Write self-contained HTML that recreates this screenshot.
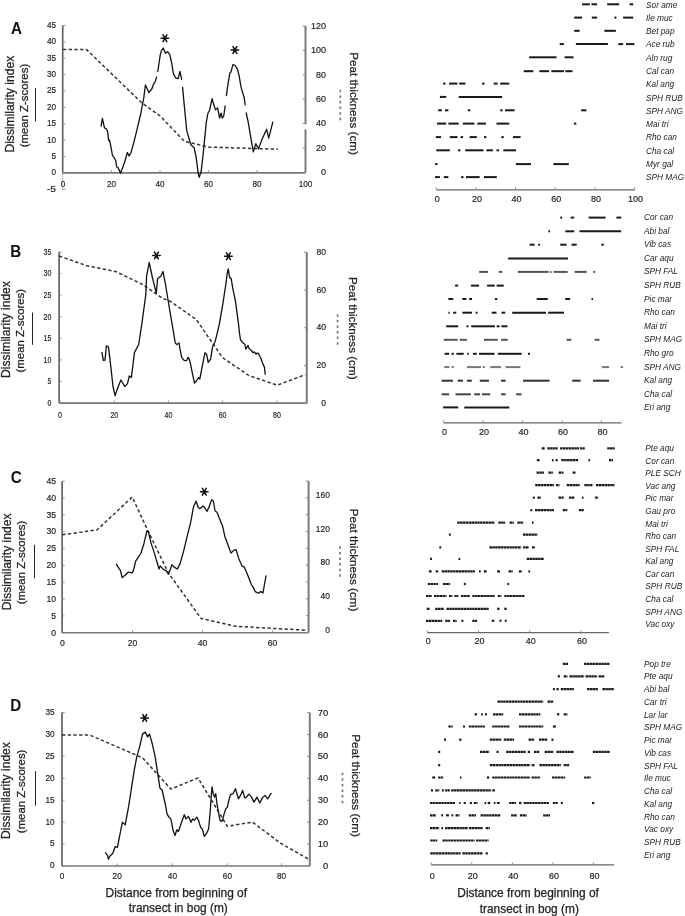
<!DOCTYPE html>
<html><head><meta charset="utf-8"><title>Figure</title>
<style>
html,body{margin:0;padding:0;background:#fff;}
svg{display:block;filter:grayscale(1);}
text{font-family:"Liberation Sans", sans-serif;}
</style></head>
<body>
<svg width="685" height="916" viewBox="0 0 685 916">
<rect x="0" y="0" width="685" height="916" fill="#fff"/>
<text x="16.6" y="28.5" font-size="16.6" text-anchor="middle" font-weight="bold" font-style="normal" fill="#111" dominant-baseline="central" textLength="11.00" lengthAdjust="spacingAndGlyphs">A</text>
<line x1="62.7" y1="25.5" x2="62.7" y2="172.9" stroke="#5a5a5a" stroke-width="1.6"/>
<line x1="62.7" y1="172.9" x2="62.7" y2="189.27777777777777" stroke="#aaa" stroke-width="0.8"/>
<line x1="62.7" y1="189.27777777777777" x2="65.3" y2="189.27777777777777" stroke="#888" stroke-width="0.9"/>
<text x="56.0" y="188.17777777777778" font-size="9.6" text-anchor="end" font-weight="normal" font-style="normal" fill="#222" dominant-baseline="central" stroke="#222" stroke-width="0.18" textLength="9.10" lengthAdjust="spacingAndGlyphs">-5</text>
<line x1="62.7" y1="172.9" x2="65.3" y2="172.9" stroke="#888" stroke-width="0.9"/>
<text x="56.0" y="171.8" font-size="9.6" text-anchor="end" font-weight="normal" font-style="normal" fill="#222" dominant-baseline="central" stroke="#222" stroke-width="0.18" textLength="4.55" lengthAdjust="spacingAndGlyphs">0</text>
<line x1="62.7" y1="156.52222222222224" x2="65.3" y2="156.52222222222224" stroke="#888" stroke-width="0.9"/>
<text x="56.0" y="155.42222222222225" font-size="9.6" text-anchor="end" font-weight="normal" font-style="normal" fill="#222" dominant-baseline="central" stroke="#222" stroke-width="0.18" textLength="4.55" lengthAdjust="spacingAndGlyphs">5</text>
<line x1="62.7" y1="140.14444444444445" x2="65.3" y2="140.14444444444445" stroke="#888" stroke-width="0.9"/>
<text x="56.0" y="139.04444444444445" font-size="9.6" text-anchor="end" font-weight="normal" font-style="normal" fill="#222" dominant-baseline="central" stroke="#222" stroke-width="0.18" textLength="9.10" lengthAdjust="spacingAndGlyphs">10</text>
<line x1="62.7" y1="123.76666666666667" x2="65.3" y2="123.76666666666667" stroke="#888" stroke-width="0.9"/>
<text x="56.0" y="122.66666666666667" font-size="9.6" text-anchor="end" font-weight="normal" font-style="normal" fill="#222" dominant-baseline="central" stroke="#222" stroke-width="0.18" textLength="9.10" lengthAdjust="spacingAndGlyphs">15</text>
<line x1="62.7" y1="107.38888888888889" x2="65.3" y2="107.38888888888889" stroke="#888" stroke-width="0.9"/>
<text x="56.0" y="106.28888888888889" font-size="9.6" text-anchor="end" font-weight="normal" font-style="normal" fill="#222" dominant-baseline="central" stroke="#222" stroke-width="0.18" textLength="9.10" lengthAdjust="spacingAndGlyphs">20</text>
<line x1="62.7" y1="91.0111111111111" x2="65.3" y2="91.0111111111111" stroke="#888" stroke-width="0.9"/>
<text x="56.0" y="89.91111111111111" font-size="9.6" text-anchor="end" font-weight="normal" font-style="normal" fill="#222" dominant-baseline="central" stroke="#222" stroke-width="0.18" textLength="9.10" lengthAdjust="spacingAndGlyphs">25</text>
<line x1="62.7" y1="74.63333333333333" x2="65.3" y2="74.63333333333333" stroke="#888" stroke-width="0.9"/>
<text x="56.0" y="73.53333333333333" font-size="9.6" text-anchor="end" font-weight="normal" font-style="normal" fill="#222" dominant-baseline="central" stroke="#222" stroke-width="0.18" textLength="9.10" lengthAdjust="spacingAndGlyphs">30</text>
<line x1="62.7" y1="58.255555555555546" x2="65.3" y2="58.255555555555546" stroke="#888" stroke-width="0.9"/>
<text x="56.0" y="57.155555555555544" font-size="9.6" text-anchor="end" font-weight="normal" font-style="normal" fill="#222" dominant-baseline="central" stroke="#222" stroke-width="0.18" textLength="9.10" lengthAdjust="spacingAndGlyphs">35</text>
<line x1="62.7" y1="41.877777777777766" x2="65.3" y2="41.877777777777766" stroke="#888" stroke-width="0.9"/>
<text x="56.0" y="40.777777777777764" font-size="9.6" text-anchor="end" font-weight="normal" font-style="normal" fill="#222" dominant-baseline="central" stroke="#222" stroke-width="0.18" textLength="9.10" lengthAdjust="spacingAndGlyphs">40</text>
<line x1="62.7" y1="25.49999999999997" x2="65.3" y2="25.49999999999997" stroke="#888" stroke-width="0.9"/>
<text x="56.0" y="24.39999999999997" font-size="9.6" text-anchor="end" font-weight="normal" font-style="normal" fill="#222" dominant-baseline="central" stroke="#222" stroke-width="0.18" textLength="9.10" lengthAdjust="spacingAndGlyphs">45</text>
<line x1="62.7" y1="172.9" x2="305.5" y2="172.9" stroke="#777" stroke-width="1.6"/>
<line x1="63.0" y1="170.3" x2="63.0" y2="172.9" stroke="#888" stroke-width="0.9"/>
<text x="63.0" y="183.5" font-size="9.6" text-anchor="middle" font-weight="normal" font-style="normal" fill="#222" dominant-baseline="central" stroke="#222" stroke-width="0.18" textLength="4.55" lengthAdjust="spacingAndGlyphs">0</text>
<line x1="111.5" y1="170.3" x2="111.5" y2="172.9" stroke="#888" stroke-width="0.9"/>
<text x="111.5" y="183.5" font-size="9.6" text-anchor="middle" font-weight="normal" font-style="normal" fill="#222" dominant-baseline="central" stroke="#222" stroke-width="0.18" textLength="9.10" lengthAdjust="spacingAndGlyphs">20</text>
<line x1="160.0" y1="170.3" x2="160.0" y2="172.9" stroke="#888" stroke-width="0.9"/>
<text x="160.0" y="183.5" font-size="9.6" text-anchor="middle" font-weight="normal" font-style="normal" fill="#222" dominant-baseline="central" stroke="#222" stroke-width="0.18" textLength="9.10" lengthAdjust="spacingAndGlyphs">40</text>
<line x1="208.5" y1="170.3" x2="208.5" y2="172.9" stroke="#888" stroke-width="0.9"/>
<text x="208.5" y="183.5" font-size="9.6" text-anchor="middle" font-weight="normal" font-style="normal" fill="#222" dominant-baseline="central" stroke="#222" stroke-width="0.18" textLength="9.10" lengthAdjust="spacingAndGlyphs">60</text>
<line x1="257.0" y1="170.3" x2="257.0" y2="172.9" stroke="#888" stroke-width="0.9"/>
<text x="257.0" y="183.5" font-size="9.6" text-anchor="middle" font-weight="normal" font-style="normal" fill="#222" dominant-baseline="central" stroke="#222" stroke-width="0.18" textLength="9.10" lengthAdjust="spacingAndGlyphs">80</text>
<line x1="305.5" y1="170.3" x2="305.5" y2="172.9" stroke="#888" stroke-width="0.9"/>
<text x="305.5" y="183.5" font-size="9.6" text-anchor="middle" font-weight="normal" font-style="normal" fill="#222" dominant-baseline="central" stroke="#222" stroke-width="0.18" textLength="13.65" lengthAdjust="spacingAndGlyphs">100</text>
<line x1="305.5" y1="26.0" x2="305.5" y2="124.2" stroke="#7a7a7a" stroke-width="2.0"/>
<line x1="305.5" y1="129.5" x2="305.5" y2="172.3" stroke="#7a7a7a" stroke-width="2.0"/>
<line x1="302.7" y1="172.3" x2="305.5" y2="172.3" stroke="#888" stroke-width="0.9"/>
<text x="326" y="171.70000000000002" font-size="9.6" text-anchor="end" font-weight="normal" font-style="normal" fill="#222" dominant-baseline="central" stroke="#222" stroke-width="0.18" textLength="5.00" lengthAdjust="spacingAndGlyphs">0</text>
<line x1="302.7" y1="147.91666666666669" x2="305.5" y2="147.91666666666669" stroke="#888" stroke-width="0.9"/>
<text x="326" y="147.3166666666667" font-size="9.6" text-anchor="end" font-weight="normal" font-style="normal" fill="#222" dominant-baseline="central" stroke="#222" stroke-width="0.18" textLength="10.00" lengthAdjust="spacingAndGlyphs">20</text>
<line x1="302.7" y1="123.53333333333333" x2="305.5" y2="123.53333333333333" stroke="#888" stroke-width="0.9"/>
<text x="326" y="122.93333333333334" font-size="9.6" text-anchor="end" font-weight="normal" font-style="normal" fill="#222" dominant-baseline="central" stroke="#222" stroke-width="0.18" textLength="10.00" lengthAdjust="spacingAndGlyphs">40</text>
<line x1="302.7" y1="99.15" x2="305.5" y2="99.15" stroke="#888" stroke-width="0.9"/>
<text x="326" y="98.55000000000001" font-size="9.6" text-anchor="end" font-weight="normal" font-style="normal" fill="#222" dominant-baseline="central" stroke="#222" stroke-width="0.18" textLength="10.00" lengthAdjust="spacingAndGlyphs">60</text>
<line x1="302.7" y1="74.76666666666667" x2="305.5" y2="74.76666666666667" stroke="#888" stroke-width="0.9"/>
<text x="326" y="74.16666666666667" font-size="9.6" text-anchor="end" font-weight="normal" font-style="normal" fill="#222" dominant-baseline="central" stroke="#222" stroke-width="0.18" textLength="10.00" lengthAdjust="spacingAndGlyphs">80</text>
<line x1="302.7" y1="50.383333333333326" x2="305.5" y2="50.383333333333326" stroke="#888" stroke-width="0.9"/>
<text x="326" y="49.783333333333324" font-size="9.6" text-anchor="end" font-weight="normal" font-style="normal" fill="#222" dominant-baseline="central" stroke="#222" stroke-width="0.18" textLength="15.00" lengthAdjust="spacingAndGlyphs">100</text>
<line x1="302.7" y1="26.0" x2="305.5" y2="26.0" stroke="#888" stroke-width="0.9"/>
<text x="326" y="25.4" font-size="9.6" text-anchor="end" font-weight="normal" font-style="normal" fill="#222" dominant-baseline="central" stroke="#222" stroke-width="0.18" textLength="15.00" lengthAdjust="spacingAndGlyphs">120</text>
<text x="9.7" y="104.2" font-size="12.1" text-anchor="middle" font-weight="normal" font-style="normal" fill="#222" dominant-baseline="central" transform="rotate(-90 9.7 104.2)" stroke="#222" stroke-width="0.25">Dissimilarity index</text>
<text x="24.4" y="105.6" font-size="11.4" text-anchor="middle" font-weight="normal" font-style="normal" fill="#222" dominant-baseline="central" transform="rotate(-90 24.4 105.6)" stroke="#222" stroke-width="0.25">(mean Z-scores)</text>
<line x1="35.5" y1="88" x2="35.5" y2="121.39999999999999" stroke="#222" stroke-width="1.0"/>
<text x="354.1" y="103.6" font-size="11.7" text-anchor="middle" font-weight="normal" font-style="normal" fill="#222" dominant-baseline="central" transform="rotate(90 354.1 103.6)" stroke="#222" stroke-width="0.25">Peat thickness (cm)</text>
<line x1="340.3" y1="89.8" x2="340.3" y2="121.2" stroke="#777" stroke-width="1.7" stroke-dasharray="2.5,3.1"/>
<text x="15.7" y="251.6" font-size="16.6" text-anchor="middle" font-weight="bold" font-style="normal" fill="#111" dominant-baseline="central" textLength="11.00" lengthAdjust="spacingAndGlyphs">B</text>
<line x1="59.1" y1="252.0" x2="59.1" y2="403.1" stroke="#5a5a5a" stroke-width="1.6"/>
<line x1="59.1" y1="403.1" x2="61.7" y2="403.1" stroke="#888" stroke-width="0.9"/>
<text x="51.4" y="403.0" font-size="9.2" text-anchor="end" font-weight="normal" font-style="normal" fill="#222" dominant-baseline="central" stroke="#222" stroke-width="0.18" textLength="3.90" lengthAdjust="spacingAndGlyphs">0</text>
<line x1="59.1" y1="381.51428571428573" x2="61.7" y2="381.51428571428573" stroke="#888" stroke-width="0.9"/>
<text x="51.4" y="381.4142857142857" font-size="9.2" text-anchor="end" font-weight="normal" font-style="normal" fill="#222" dominant-baseline="central" stroke="#222" stroke-width="0.18" textLength="3.90" lengthAdjust="spacingAndGlyphs">5</text>
<line x1="59.1" y1="359.92857142857144" x2="61.7" y2="359.92857142857144" stroke="#888" stroke-width="0.9"/>
<text x="51.4" y="359.8285714285714" font-size="9.2" text-anchor="end" font-weight="normal" font-style="normal" fill="#222" dominant-baseline="central" stroke="#222" stroke-width="0.18" textLength="7.80" lengthAdjust="spacingAndGlyphs">10</text>
<line x1="59.1" y1="338.34285714285716" x2="61.7" y2="338.34285714285716" stroke="#888" stroke-width="0.9"/>
<text x="51.4" y="338.24285714285713" font-size="9.2" text-anchor="end" font-weight="normal" font-style="normal" fill="#222" dominant-baseline="central" stroke="#222" stroke-width="0.18" textLength="7.80" lengthAdjust="spacingAndGlyphs">15</text>
<line x1="59.1" y1="316.75714285714287" x2="61.7" y2="316.75714285714287" stroke="#888" stroke-width="0.9"/>
<text x="51.4" y="316.65714285714284" font-size="9.2" text-anchor="end" font-weight="normal" font-style="normal" fill="#222" dominant-baseline="central" stroke="#222" stroke-width="0.18" textLength="7.80" lengthAdjust="spacingAndGlyphs">20</text>
<line x1="59.1" y1="295.1714285714286" x2="61.7" y2="295.1714285714286" stroke="#888" stroke-width="0.9"/>
<text x="51.4" y="295.07142857142856" font-size="9.2" text-anchor="end" font-weight="normal" font-style="normal" fill="#222" dominant-baseline="central" stroke="#222" stroke-width="0.18" textLength="7.80" lengthAdjust="spacingAndGlyphs">25</text>
<line x1="59.1" y1="273.5857142857143" x2="61.7" y2="273.5857142857143" stroke="#888" stroke-width="0.9"/>
<text x="51.4" y="273.48571428571427" font-size="9.2" text-anchor="end" font-weight="normal" font-style="normal" fill="#222" dominant-baseline="central" stroke="#222" stroke-width="0.18" textLength="7.80" lengthAdjust="spacingAndGlyphs">30</text>
<line x1="59.1" y1="252.0" x2="61.7" y2="252.0" stroke="#888" stroke-width="0.9"/>
<text x="51.4" y="251.9" font-size="9.2" text-anchor="end" font-weight="normal" font-style="normal" fill="#222" dominant-baseline="central" stroke="#222" stroke-width="0.18" textLength="7.80" lengthAdjust="spacingAndGlyphs">35</text>
<line x1="59.1" y1="403.1" x2="306.6" y2="403.1" stroke="#777" stroke-width="1.6"/>
<line x1="59.9" y1="400.5" x2="59.9" y2="403.1" stroke="#888" stroke-width="0.9"/>
<text x="59.9" y="415.4" font-size="9.2" text-anchor="middle" font-weight="normal" font-style="normal" fill="#222" dominant-baseline="central" stroke="#222" stroke-width="0.18" textLength="3.90" lengthAdjust="spacingAndGlyphs">0</text>
<line x1="114.3" y1="400.5" x2="114.3" y2="403.1" stroke="#888" stroke-width="0.9"/>
<text x="114.3" y="415.4" font-size="9.2" text-anchor="middle" font-weight="normal" font-style="normal" fill="#222" dominant-baseline="central" stroke="#222" stroke-width="0.18" textLength="7.80" lengthAdjust="spacingAndGlyphs">20</text>
<line x1="168.4" y1="400.5" x2="168.4" y2="403.1" stroke="#888" stroke-width="0.9"/>
<text x="168.4" y="415.4" font-size="9.2" text-anchor="middle" font-weight="normal" font-style="normal" fill="#222" dominant-baseline="central" stroke="#222" stroke-width="0.18" textLength="7.80" lengthAdjust="spacingAndGlyphs">40</text>
<line x1="222.6" y1="400.5" x2="222.6" y2="403.1" stroke="#888" stroke-width="0.9"/>
<text x="222.6" y="415.4" font-size="9.2" text-anchor="middle" font-weight="normal" font-style="normal" fill="#222" dominant-baseline="central" stroke="#222" stroke-width="0.18" textLength="7.80" lengthAdjust="spacingAndGlyphs">60</text>
<line x1="277.0" y1="400.5" x2="277.0" y2="403.1" stroke="#888" stroke-width="0.9"/>
<text x="277.0" y="415.4" font-size="9.2" text-anchor="middle" font-weight="normal" font-style="normal" fill="#222" dominant-baseline="central" stroke="#222" stroke-width="0.18" textLength="7.80" lengthAdjust="spacingAndGlyphs">80</text>
<line x1="306.8" y1="252.2" x2="306.8" y2="403.3" stroke="#7a7a7a" stroke-width="2.0"/>
<line x1="304.0" y1="403.3" x2="306.8" y2="403.3" stroke="#888" stroke-width="0.9"/>
<text x="326.0" y="402.90000000000003" font-size="9.2" text-anchor="end" font-weight="normal" font-style="normal" fill="#222" dominant-baseline="central" stroke="#222" stroke-width="0.18" textLength="4.80" lengthAdjust="spacingAndGlyphs">0</text>
<line x1="304.0" y1="365.525" x2="306.8" y2="365.525" stroke="#888" stroke-width="0.9"/>
<text x="326.0" y="365.125" font-size="9.2" text-anchor="end" font-weight="normal" font-style="normal" fill="#222" dominant-baseline="central" stroke="#222" stroke-width="0.18" textLength="9.60" lengthAdjust="spacingAndGlyphs">20</text>
<line x1="304.0" y1="327.75" x2="306.8" y2="327.75" stroke="#888" stroke-width="0.9"/>
<text x="326.0" y="327.35" font-size="9.2" text-anchor="end" font-weight="normal" font-style="normal" fill="#222" dominant-baseline="central" stroke="#222" stroke-width="0.18" textLength="9.60" lengthAdjust="spacingAndGlyphs">40</text>
<line x1="304.0" y1="289.975" x2="306.8" y2="289.975" stroke="#888" stroke-width="0.9"/>
<text x="326.0" y="289.57500000000005" font-size="9.2" text-anchor="end" font-weight="normal" font-style="normal" fill="#222" dominant-baseline="central" stroke="#222" stroke-width="0.18" textLength="9.60" lengthAdjust="spacingAndGlyphs">60</text>
<line x1="304.0" y1="252.2" x2="306.8" y2="252.2" stroke="#888" stroke-width="0.9"/>
<text x="326.0" y="251.79999999999998" font-size="9.2" text-anchor="end" font-weight="normal" font-style="normal" fill="#222" dominant-baseline="central" stroke="#222" stroke-width="0.18" textLength="9.60" lengthAdjust="spacingAndGlyphs">80</text>
<text x="6.3" y="329.5" font-size="12.1" text-anchor="middle" font-weight="normal" font-style="normal" fill="#222" dominant-baseline="central" transform="rotate(-90 6.3 329.5)" stroke="#222" stroke-width="0.25">Dissimilarity index</text>
<text x="20.2" y="330.7" font-size="11.4" text-anchor="middle" font-weight="normal" font-style="normal" fill="#222" dominant-baseline="central" transform="rotate(-90 20.2 330.7)" stroke="#222" stroke-width="0.25">(mean Z-scores)</text>
<line x1="32.5" y1="312.5" x2="32.5" y2="344.8" stroke="#222" stroke-width="1.0"/>
<text x="353.2" y="328.3" font-size="11.7" text-anchor="middle" font-weight="normal" font-style="normal" fill="#222" dominant-baseline="central" transform="rotate(90 353.2 328.3)" stroke="#222" stroke-width="0.25">Peat thickness (cm)</text>
<line x1="337.6" y1="314.2" x2="337.6" y2="344.8" stroke="#777" stroke-width="1.7" stroke-dasharray="2.5,3.1"/>
<text x="16.2" y="477.1" font-size="16.6" text-anchor="middle" font-weight="bold" font-style="normal" fill="#111" dominant-baseline="central" textLength="11.00" lengthAdjust="spacingAndGlyphs">C</text>
<line x1="62.1" y1="481.2" x2="62.1" y2="632.8" stroke="#5a5a5a" stroke-width="1.6"/>
<line x1="62.1" y1="632.8" x2="64.7" y2="632.8" stroke="#888" stroke-width="0.9"/>
<text x="56.0" y="632.0" font-size="9.7" text-anchor="end" font-weight="normal" font-style="normal" fill="#222" dominant-baseline="central" stroke="#222" stroke-width="0.18" textLength="4.80" lengthAdjust="spacingAndGlyphs">0</text>
<line x1="62.1" y1="615.9555555555555" x2="64.7" y2="615.9555555555555" stroke="#888" stroke-width="0.9"/>
<text x="56.0" y="615.1555555555556" font-size="9.7" text-anchor="end" font-weight="normal" font-style="normal" fill="#222" dominant-baseline="central" stroke="#222" stroke-width="0.18" textLength="4.80" lengthAdjust="spacingAndGlyphs">5</text>
<line x1="62.1" y1="599.1111111111111" x2="64.7" y2="599.1111111111111" stroke="#888" stroke-width="0.9"/>
<text x="56.0" y="598.3111111111111" font-size="9.7" text-anchor="end" font-weight="normal" font-style="normal" fill="#222" dominant-baseline="central" stroke="#222" stroke-width="0.18" textLength="9.60" lengthAdjust="spacingAndGlyphs">10</text>
<line x1="62.1" y1="582.2666666666667" x2="64.7" y2="582.2666666666667" stroke="#888" stroke-width="0.9"/>
<text x="56.0" y="581.4666666666667" font-size="9.7" text-anchor="end" font-weight="normal" font-style="normal" fill="#222" dominant-baseline="central" stroke="#222" stroke-width="0.18" textLength="9.60" lengthAdjust="spacingAndGlyphs">15</text>
<line x1="62.1" y1="565.4222222222222" x2="64.7" y2="565.4222222222222" stroke="#888" stroke-width="0.9"/>
<text x="56.0" y="564.6222222222223" font-size="9.7" text-anchor="end" font-weight="normal" font-style="normal" fill="#222" dominant-baseline="central" stroke="#222" stroke-width="0.18" textLength="9.60" lengthAdjust="spacingAndGlyphs">20</text>
<line x1="62.1" y1="548.5777777777778" x2="64.7" y2="548.5777777777778" stroke="#888" stroke-width="0.9"/>
<text x="56.0" y="547.7777777777778" font-size="9.7" text-anchor="end" font-weight="normal" font-style="normal" fill="#222" dominant-baseline="central" stroke="#222" stroke-width="0.18" textLength="9.60" lengthAdjust="spacingAndGlyphs">25</text>
<line x1="62.1" y1="531.7333333333333" x2="64.7" y2="531.7333333333333" stroke="#888" stroke-width="0.9"/>
<text x="56.0" y="530.9333333333334" font-size="9.7" text-anchor="end" font-weight="normal" font-style="normal" fill="#222" dominant-baseline="central" stroke="#222" stroke-width="0.18" textLength="9.60" lengthAdjust="spacingAndGlyphs">30</text>
<line x1="62.1" y1="514.8888888888889" x2="64.7" y2="514.8888888888889" stroke="#888" stroke-width="0.9"/>
<text x="56.0" y="514.088888888889" font-size="9.7" text-anchor="end" font-weight="normal" font-style="normal" fill="#222" dominant-baseline="central" stroke="#222" stroke-width="0.18" textLength="9.60" lengthAdjust="spacingAndGlyphs">35</text>
<line x1="62.1" y1="498.0444444444444" x2="64.7" y2="498.0444444444444" stroke="#888" stroke-width="0.9"/>
<text x="56.0" y="497.2444444444444" font-size="9.7" text-anchor="end" font-weight="normal" font-style="normal" fill="#222" dominant-baseline="central" stroke="#222" stroke-width="0.18" textLength="9.60" lengthAdjust="spacingAndGlyphs">40</text>
<line x1="62.1" y1="481.2" x2="64.7" y2="481.2" stroke="#888" stroke-width="0.9"/>
<text x="56.0" y="480.4" font-size="9.7" text-anchor="end" font-weight="normal" font-style="normal" fill="#222" dominant-baseline="central" stroke="#222" stroke-width="0.18" textLength="9.60" lengthAdjust="spacingAndGlyphs">45</text>
<line x1="62.1" y1="632.8" x2="308.5" y2="632.8" stroke="#777" stroke-width="1.6"/>
<line x1="62.3" y1="630.1999999999999" x2="62.3" y2="632.8" stroke="#888" stroke-width="0.9"/>
<text x="62.3" y="642.8" font-size="9.7" text-anchor="middle" font-weight="normal" font-style="normal" fill="#222" dominant-baseline="central" stroke="#222" stroke-width="0.18" textLength="4.80" lengthAdjust="spacingAndGlyphs">0</text>
<line x1="132.5" y1="630.1999999999999" x2="132.5" y2="632.8" stroke="#888" stroke-width="0.9"/>
<text x="132.5" y="642.8" font-size="9.7" text-anchor="middle" font-weight="normal" font-style="normal" fill="#222" dominant-baseline="central" stroke="#222" stroke-width="0.18" textLength="9.60" lengthAdjust="spacingAndGlyphs">20</text>
<line x1="202.5" y1="630.1999999999999" x2="202.5" y2="632.8" stroke="#888" stroke-width="0.9"/>
<text x="202.5" y="642.8" font-size="9.7" text-anchor="middle" font-weight="normal" font-style="normal" fill="#222" dominant-baseline="central" stroke="#222" stroke-width="0.18" textLength="9.60" lengthAdjust="spacingAndGlyphs">40</text>
<line x1="272.6" y1="630.1999999999999" x2="272.6" y2="632.8" stroke="#888" stroke-width="0.9"/>
<text x="272.6" y="642.8" font-size="9.7" text-anchor="middle" font-weight="normal" font-style="normal" fill="#222" dominant-baseline="central" stroke="#222" stroke-width="0.18" textLength="9.60" lengthAdjust="spacingAndGlyphs">60</text>
<line x1="308.6" y1="481.0" x2="308.6" y2="632.5" stroke="#7a7a7a" stroke-width="2.0"/>
<line x1="305.8" y1="632.5" x2="308.6" y2="632.5" stroke="#888" stroke-width="0.9"/>
<text x="329.9" y="629.1" font-size="9.7" text-anchor="end" font-weight="normal" font-style="normal" fill="#222" dominant-baseline="central" stroke="#222" stroke-width="0.18" textLength="4.70" lengthAdjust="spacingAndGlyphs">0</text>
<line x1="305.8" y1="615.6666666666666" x2="308.6" y2="615.6666666666666" stroke="#888" stroke-width="0.9"/>
<line x1="305.8" y1="598.8333333333334" x2="308.6" y2="598.8333333333334" stroke="#888" stroke-width="0.9"/>
<text x="329.9" y="595.4333333333334" font-size="9.7" text-anchor="end" font-weight="normal" font-style="normal" fill="#222" dominant-baseline="central" stroke="#222" stroke-width="0.18" textLength="9.40" lengthAdjust="spacingAndGlyphs">40</text>
<line x1="305.8" y1="582.0" x2="308.6" y2="582.0" stroke="#888" stroke-width="0.9"/>
<line x1="305.8" y1="565.1666666666666" x2="308.6" y2="565.1666666666666" stroke="#888" stroke-width="0.9"/>
<text x="329.9" y="561.7666666666667" font-size="9.7" text-anchor="end" font-weight="normal" font-style="normal" fill="#222" dominant-baseline="central" stroke="#222" stroke-width="0.18" textLength="9.40" lengthAdjust="spacingAndGlyphs">80</text>
<line x1="305.8" y1="548.3333333333334" x2="308.6" y2="548.3333333333334" stroke="#888" stroke-width="0.9"/>
<line x1="305.8" y1="531.5" x2="308.6" y2="531.5" stroke="#888" stroke-width="0.9"/>
<text x="329.9" y="528.1" font-size="9.7" text-anchor="end" font-weight="normal" font-style="normal" fill="#222" dominant-baseline="central" stroke="#222" stroke-width="0.18" textLength="14.10" lengthAdjust="spacingAndGlyphs">120</text>
<line x1="305.8" y1="514.6666666666666" x2="308.6" y2="514.6666666666666" stroke="#888" stroke-width="0.9"/>
<line x1="305.8" y1="497.83333333333337" x2="308.6" y2="497.83333333333337" stroke="#888" stroke-width="0.9"/>
<text x="329.9" y="494.4333333333334" font-size="9.7" text-anchor="end" font-weight="normal" font-style="normal" fill="#222" dominant-baseline="central" stroke="#222" stroke-width="0.18" textLength="14.10" lengthAdjust="spacingAndGlyphs">160</text>
<line x1="305.8" y1="481.0" x2="308.6" y2="481.0" stroke="#888" stroke-width="0.9"/>
<text x="7.0" y="561.9" font-size="12.1" text-anchor="middle" font-weight="normal" font-style="normal" fill="#222" dominant-baseline="central" transform="rotate(-90 7.0 561.9)" stroke="#222" stroke-width="0.25">Dissimilarity index</text>
<text x="20.7" y="562.5" font-size="11.4" text-anchor="middle" font-weight="normal" font-style="normal" fill="#222" dominant-baseline="central" transform="rotate(-90 20.7 562.5)" stroke="#222" stroke-width="0.25">(mean Z-scores)</text>
<line x1="34.5" y1="544.8" x2="34.5" y2="578.4" stroke="#222" stroke-width="1.0"/>
<text x="354.7" y="560.1" font-size="11.7" text-anchor="middle" font-weight="normal" font-style="normal" fill="#222" dominant-baseline="central" transform="rotate(90 354.7 560.1)" stroke="#222" stroke-width="0.25">Peat thickness (cm)</text>
<line x1="340.0" y1="546.3" x2="340.0" y2="578.0" stroke="#777" stroke-width="1.7" stroke-dasharray="2.5,3.1"/>
<text x="15.8" y="705.7" font-size="16.6" text-anchor="middle" font-weight="bold" font-style="normal" fill="#111" dominant-baseline="central" textLength="11.00" lengthAdjust="spacingAndGlyphs">D</text>
<line x1="62.0" y1="712.5" x2="62.0" y2="866.0" stroke="#5a5a5a" stroke-width="1.6"/>
<line x1="62.0" y1="866.0" x2="64.6" y2="866.0" stroke="#888" stroke-width="0.9"/>
<text x="54.6" y="864.9" font-size="9.7" text-anchor="end" font-weight="normal" font-style="normal" fill="#222" dominant-baseline="central" stroke="#222" stroke-width="0.18" textLength="4.60" lengthAdjust="spacingAndGlyphs">0</text>
<line x1="62.0" y1="844.0714285714286" x2="64.6" y2="844.0714285714286" stroke="#888" stroke-width="0.9"/>
<text x="54.6" y="842.9714285714285" font-size="9.7" text-anchor="end" font-weight="normal" font-style="normal" fill="#222" dominant-baseline="central" stroke="#222" stroke-width="0.18" textLength="4.60" lengthAdjust="spacingAndGlyphs">5</text>
<line x1="62.0" y1="822.1428571428571" x2="64.6" y2="822.1428571428571" stroke="#888" stroke-width="0.9"/>
<text x="54.6" y="821.0428571428571" font-size="9.7" text-anchor="end" font-weight="normal" font-style="normal" fill="#222" dominant-baseline="central" stroke="#222" stroke-width="0.18" textLength="9.20" lengthAdjust="spacingAndGlyphs">10</text>
<line x1="62.0" y1="800.2142857142858" x2="64.6" y2="800.2142857142858" stroke="#888" stroke-width="0.9"/>
<text x="54.6" y="799.1142857142858" font-size="9.7" text-anchor="end" font-weight="normal" font-style="normal" fill="#222" dominant-baseline="central" stroke="#222" stroke-width="0.18" textLength="9.20" lengthAdjust="spacingAndGlyphs">15</text>
<line x1="62.0" y1="778.2857142857143" x2="64.6" y2="778.2857142857143" stroke="#888" stroke-width="0.9"/>
<text x="54.6" y="777.1857142857143" font-size="9.7" text-anchor="end" font-weight="normal" font-style="normal" fill="#222" dominant-baseline="central" stroke="#222" stroke-width="0.18" textLength="9.20" lengthAdjust="spacingAndGlyphs">20</text>
<line x1="62.0" y1="756.3571428571429" x2="64.6" y2="756.3571428571429" stroke="#888" stroke-width="0.9"/>
<text x="54.6" y="755.2571428571429" font-size="9.7" text-anchor="end" font-weight="normal" font-style="normal" fill="#222" dominant-baseline="central" stroke="#222" stroke-width="0.18" textLength="9.20" lengthAdjust="spacingAndGlyphs">25</text>
<line x1="62.0" y1="734.4285714285714" x2="64.6" y2="734.4285714285714" stroke="#888" stroke-width="0.9"/>
<text x="54.6" y="733.3285714285714" font-size="9.7" text-anchor="end" font-weight="normal" font-style="normal" fill="#222" dominant-baseline="central" stroke="#222" stroke-width="0.18" textLength="9.20" lengthAdjust="spacingAndGlyphs">30</text>
<line x1="62.0" y1="712.5" x2="64.6" y2="712.5" stroke="#888" stroke-width="0.9"/>
<text x="54.6" y="711.4" font-size="9.7" text-anchor="end" font-weight="normal" font-style="normal" fill="#222" dominant-baseline="central" stroke="#222" stroke-width="0.18" textLength="9.20" lengthAdjust="spacingAndGlyphs">35</text>
<line x1="62.0" y1="866.0" x2="309.8" y2="866.0" stroke="#777" stroke-width="1.6"/>
<line x1="62.0" y1="863.4" x2="62.0" y2="866.0" stroke="#888" stroke-width="0.9"/>
<text x="62.0" y="875.7" font-size="9.7" text-anchor="middle" font-weight="normal" font-style="normal" fill="#222" dominant-baseline="central" stroke="#222" stroke-width="0.18" textLength="4.60" lengthAdjust="spacingAndGlyphs">0</text>
<line x1="117.2" y1="863.4" x2="117.2" y2="866.0" stroke="#888" stroke-width="0.9"/>
<text x="117.2" y="875.7" font-size="9.7" text-anchor="middle" font-weight="normal" font-style="normal" fill="#222" dominant-baseline="central" stroke="#222" stroke-width="0.18" textLength="9.20" lengthAdjust="spacingAndGlyphs">20</text>
<line x1="172.4" y1="863.4" x2="172.4" y2="866.0" stroke="#888" stroke-width="0.9"/>
<text x="172.4" y="875.7" font-size="9.7" text-anchor="middle" font-weight="normal" font-style="normal" fill="#222" dominant-baseline="central" stroke="#222" stroke-width="0.18" textLength="9.20" lengthAdjust="spacingAndGlyphs">40</text>
<line x1="227.4" y1="863.4" x2="227.4" y2="866.0" stroke="#888" stroke-width="0.9"/>
<text x="227.4" y="875.7" font-size="9.7" text-anchor="middle" font-weight="normal" font-style="normal" fill="#222" dominant-baseline="central" stroke="#222" stroke-width="0.18" textLength="9.20" lengthAdjust="spacingAndGlyphs">60</text>
<line x1="281.6" y1="863.4" x2="281.6" y2="866.0" stroke="#888" stroke-width="0.9"/>
<text x="281.6" y="875.7" font-size="9.7" text-anchor="middle" font-weight="normal" font-style="normal" fill="#222" dominant-baseline="central" stroke="#222" stroke-width="0.18" textLength="9.20" lengthAdjust="spacingAndGlyphs">80</text>
<line x1="309.8" y1="712.6" x2="309.8" y2="866.0" stroke="#7a7a7a" stroke-width="2.0"/>
<line x1="307.0" y1="866.0" x2="309.8" y2="866.0" stroke="#888" stroke-width="0.9"/>
<text x="328.2" y="865.5" font-size="9.7" text-anchor="end" font-weight="normal" font-style="normal" fill="#222" dominant-baseline="central" stroke="#222" stroke-width="0.18" textLength="5.20" lengthAdjust="spacingAndGlyphs">0</text>
<line x1="307.0" y1="844.0857142857143" x2="309.8" y2="844.0857142857143" stroke="#888" stroke-width="0.9"/>
<text x="328.2" y="843.5857142857143" font-size="9.7" text-anchor="end" font-weight="normal" font-style="normal" fill="#222" dominant-baseline="central" stroke="#222" stroke-width="0.18" textLength="10.40" lengthAdjust="spacingAndGlyphs">10</text>
<line x1="307.0" y1="822.1714285714286" x2="309.8" y2="822.1714285714286" stroke="#888" stroke-width="0.9"/>
<text x="328.2" y="821.6714285714286" font-size="9.7" text-anchor="end" font-weight="normal" font-style="normal" fill="#222" dominant-baseline="central" stroke="#222" stroke-width="0.18" textLength="10.40" lengthAdjust="spacingAndGlyphs">20</text>
<line x1="307.0" y1="800.2571428571429" x2="309.8" y2="800.2571428571429" stroke="#888" stroke-width="0.9"/>
<text x="328.2" y="799.7571428571429" font-size="9.7" text-anchor="end" font-weight="normal" font-style="normal" fill="#222" dominant-baseline="central" stroke="#222" stroke-width="0.18" textLength="10.40" lengthAdjust="spacingAndGlyphs">30</text>
<line x1="307.0" y1="778.3428571428572" x2="309.8" y2="778.3428571428572" stroke="#888" stroke-width="0.9"/>
<text x="328.2" y="777.8428571428572" font-size="9.7" text-anchor="end" font-weight="normal" font-style="normal" fill="#222" dominant-baseline="central" stroke="#222" stroke-width="0.18" textLength="10.40" lengthAdjust="spacingAndGlyphs">40</text>
<line x1="307.0" y1="756.4285714285714" x2="309.8" y2="756.4285714285714" stroke="#888" stroke-width="0.9"/>
<text x="328.2" y="755.9285714285714" font-size="9.7" text-anchor="end" font-weight="normal" font-style="normal" fill="#222" dominant-baseline="central" stroke="#222" stroke-width="0.18" textLength="10.40" lengthAdjust="spacingAndGlyphs">50</text>
<line x1="307.0" y1="734.5142857142857" x2="309.8" y2="734.5142857142857" stroke="#888" stroke-width="0.9"/>
<text x="328.2" y="734.0142857142857" font-size="9.7" text-anchor="end" font-weight="normal" font-style="normal" fill="#222" dominant-baseline="central" stroke="#222" stroke-width="0.18" textLength="10.40" lengthAdjust="spacingAndGlyphs">60</text>
<line x1="307.0" y1="712.6" x2="309.8" y2="712.6" stroke="#888" stroke-width="0.9"/>
<text x="328.2" y="712.1" font-size="9.7" text-anchor="end" font-weight="normal" font-style="normal" fill="#222" dominant-baseline="central" stroke="#222" stroke-width="0.18" textLength="10.40" lengthAdjust="spacingAndGlyphs">70</text>
<text x="6.2" y="790.5" font-size="12.1" text-anchor="middle" font-weight="normal" font-style="normal" fill="#222" dominant-baseline="central" transform="rotate(-90 6.2 790.5)" stroke="#222" stroke-width="0.25">Dissimilarity index</text>
<text x="21.0" y="791.4" font-size="11.4" text-anchor="middle" font-weight="normal" font-style="normal" fill="#222" dominant-baseline="central" transform="rotate(-90 21.0 791.4)" stroke="#222" stroke-width="0.25">(mean Z-scores)</text>
<line x1="35.5" y1="771.2" x2="35.5" y2="805.5999999999999" stroke="#222" stroke-width="1.0"/>
<text x="356.3" y="785.5" font-size="11.7" text-anchor="middle" font-weight="normal" font-style="normal" fill="#222" dominant-baseline="central" transform="rotate(90 356.3 785.5)" stroke="#222" stroke-width="0.25">Peat thickness (cm)</text>
<line x1="342.5" y1="772.7" x2="342.5" y2="804.1" stroke="#777" stroke-width="1.7" stroke-dasharray="2.5,3.1"/>
<polyline points="63.0,49.6 86.6,49.6 141.7,102.8 160.1,116.0 184.7,141.6 190.0,142.6 208.4,147.1 277.9,149.2" fill="none" stroke="#333" stroke-width="1.5" stroke-dasharray="3.3,2.4" stroke-linejoin="round"/>
<polyline points="101.1,126.1 102.4,118.4 104.5,128.0 106.3,128.7 107.6,131.4 108.7,140.6 109.5,140.2 110.6,145.2 112.5,155.5 114.4,158.2 115.7,160.5 116.7,167.0 117.9,167.4 120.6,173.1 122.5,168.1 124.4,162.8 127.4,152.4 129.0,155.9 130.9,152.8 133.9,142.1 136.2,132.9 138.0,125.3 140.7,114.0 143.8,97.7 145.4,85.0 148.9,92.6 152.0,88.5 153.7,83.8 155.2,81.6 156.6,77.2" fill="none" stroke="#111" stroke-width="1.3" stroke-linejoin="round" stroke-linecap="round"/>
<polyline points="157.8,71.4 159.2,62.0 160.3,54.6 161.5,50.5 163.2,48.0 165.4,53.1 167.6,51.7 169.8,54.6 171.5,62.0 173.4,73.6 175.6,78.0 178.1,78.7 180.0,71.4 181.6,79.3" fill="none" stroke="#111" stroke-width="1.3" stroke-linejoin="round" stroke-linecap="round"/>
<polyline points="182.6,87.4 184.7,109.9 186.7,130.4 190.8,144.7 194.1,147.7 196.1,156.9 198.2,173.3 199.2,177.4 201.2,171.2 203.3,152.8 206.3,122.2 208.0,113.0 209.4,110.9 212.1,98.7 213.5,103.8 215.5,109.9 217.6,107.9 219.6,118.1 221.1,113.0 222.3,118.1 223.7,116.0 225.2,105.8" fill="none" stroke="#111" stroke-width="1.3" stroke-linejoin="round" stroke-linecap="round"/>
<polyline points="226.4,95.6 227.8,85.4 229.9,72.7 231.0,72.0 232.9,64.6 235.0,65.4 237.4,69.0 239.0,75.2 241.1,87.4 244.2,97.7 245.2,104.8" fill="none" stroke="#111" stroke-width="1.3" stroke-linejoin="round" stroke-linecap="round"/>
<polyline points="246.2,113.0 248.2,122.2 251.3,140.6 253.4,151.8 255.8,143.6 258.5,148.8 261.5,140.6 266.6,129.3 268.7,138.1 270.7,130.4 272.8,122.2" fill="none" stroke="#111" stroke-width="1.3" stroke-linejoin="round" stroke-linecap="round"/>
<polyline points="59.1,256.0 86.7,265.7 115.6,271.5 141.9,284.1 162.9,298.5 170.0,301.2 196.3,319.5 222.5,357.6 248.8,375.5 277.2,385.2 305.3,374.7" fill="none" stroke="#333" stroke-width="1.5" stroke-dasharray="3.3,2.4" stroke-linejoin="round"/>
<polyline points="101.9,352.4 103.3,360.3 105.0,360.0 106.4,345.8 108.5,347.1 110.4,362.9 113.0,386.5 115.1,395.7 118.2,386.5 120.9,380.0 124.8,386.5 127.4,383.9 129.3,376.0 131.4,377.4 134.5,352.4 138.7,344.5 141.9,323.5 145.8,294.6 146.6,276.2 149.2,262.5 152.4,277.5 156.3,293.3 157.6,278.8 160.8,276.2 162.9,271.5 165.5,284.1 166.4,290.0 169.6,309.3 175.3,343.0 176.9,344.6 179.0,343.0 180.1,349.4 181.7,357.4 184.1,360.3 186.5,360.7 188.1,357.4 189.2,359.1 190.5,363.9 192.1,371.9 194.5,383.1 196.6,380.7 198.5,377.5 199.8,379.1 201.8,368.7 205.0,352.6 206.6,354.2 208.2,362.3 210.6,359.1 212.7,346.2 214.9,342.2 216.4,336.6 219.4,323.8 222.8,304.2 225.8,284.5 227.2,273.7 228.2,268.8 229.7,277.6 231.2,278.6 232.6,287.4 235.6,302.2 238.5,323.8 239.6,334.0 240.5,339.6 242.7,342.7 244.8,344.3 245.9,349.1 248.0,345.4 249.1,348.6 251.2,350.2 252.8,352.6 254.4,351.8 256.0,354.2 257.2,353.0 258.3,353.4 259.6,355.8 261.2,359.1 262.8,363.9 264.4,367.1 265.2,374.3" fill="none" stroke="#111" stroke-width="1.3" stroke-linejoin="round" stroke-linecap="round"/>
<polyline points="62.3,534.8 97.2,529.8 132.2,497.0 147.4,529.7 168.4,572.9 201.0,618.4 235.7,626.3 305.3,630.2" fill="none" stroke="#333" stroke-width="1.5" stroke-dasharray="3.3,2.4" stroke-linejoin="round"/>
<polyline points="116.5,564.3 118.9,568.3 120.5,570.6 122.1,577.6 125.2,575.3 128.2,572.2 132.2,572.9 133.4,570.6 135.7,561.2 138.0,557.7 140.8,553.5 143.9,543.7 146.9,530.9 148.5,532.0 150.9,542.6 154.4,553.1 156.7,561.2 159.1,569.0 160.2,565.9 163.3,569.4 166.1,570.6 168.4,574.1 170.3,569.4 171.9,564.7 174.2,567.1 177.3,569.0 180.1,563.6 183.6,551.2 187.1,536.7 190.6,522.7 193.6,506.4 196.0,501.2 198.3,507.5 199.9,508.7 203.0,505.9 204.6,507.5 206.9,511.5 209.3,506.4 211.6,499.8 213.2,500.5 215.1,511.0 217.0,512.2 219.8,519.2 222.6,526.2 224.9,536.7 228.0,544.9 231.0,553.1 233.8,550.3 236.1,549.6 238.9,558.9 242.0,565.9 244.3,567.1 247.8,575.3 251.3,584.6 253.0,586.9 255.3,591.6 258.3,593.2 260.7,591.6 263.0,592.8 266.0,576.0" fill="none" stroke="#111" stroke-width="1.3" stroke-linejoin="round" stroke-linecap="round"/>
<polyline points="62.0,734.9 89.4,734.9 123.0,749.4 142.5,757.8 156.5,773.2 171.0,789.1 198.0,777.9 227.3,826.3 252.4,822.1 280.4,843.1 309.7,859.8" fill="none" stroke="#333" stroke-width="1.5" stroke-dasharray="3.3,2.4" stroke-linejoin="round"/>
<polyline points="105.6,852.8 107.6,855.6 108.4,859.0 110.0,856.0 111.8,854.2 113.0,853.0 115.1,846.7 117.4,847.3 119.6,836.1 122.4,822.1 125.2,824.9 128.6,806.7 131.4,788.6 134.2,770.4 136.9,756.4 139.7,746.6 142.5,734.1 145.3,732.1 147.6,736.9 149.5,734.1 152.3,743.8 155.1,756.4 157.9,774.6 159.9,788.0 162.1,790.0 164.9,802.5 165.0,802.1 167.0,813.9 169.2,817.6 170.9,818.9 173.1,830.6 175.1,835.4 176.8,829.8 178.4,831.5 181.0,823.9 184.3,814.7 186.0,818.9 188.5,816.4 191.0,822.3 192.7,818.9 194.4,820.2 196.9,817.2 198.6,820.6 200.6,827.3 202.3,829.0 204.4,836.5 206.6,833.2 208.6,829.0 210.0,813.9 211.2,797.1 212.0,787.0 213.3,793.7 214.5,797.1 215.7,793.7 217.0,803.8 218.4,812.2 220.1,820.6 221.7,821.4 222.9,818.9 224.1,813.9 225.8,808.8 227.4,807.1 228.8,800.4 230.5,794.6 233.0,793.7 235.5,788.7 238.4,798.8 240.5,795.4 242.6,790.4 244.7,797.9 246.4,797.1 248.9,794.1 251.5,797.1 254.0,802.1 257.0,797.1 259.8,803.0 262.4,797.9 264.9,795.4 267.7,798.8 271.1,793.4" fill="none" stroke="#111" stroke-width="1.3" stroke-linejoin="round" stroke-linecap="round"/>
<path d="M161.10,38.30L168.70,38.30M163.00,34.92L166.80,41.68M166.80,34.92L163.00,41.68" stroke="#111" stroke-width="1.55" stroke-linecap="round" fill="none"/>
<path d="M231.10,50.00L238.70,50.00M233.00,46.62L236.80,53.38M236.80,46.62L233.00,53.38" stroke="#111" stroke-width="1.55" stroke-linecap="round" fill="none"/>
<path d="M152.60,255.40L160.20,255.40M154.50,252.02L158.30,258.78M158.30,252.02L154.50,258.78" stroke="#111" stroke-width="1.55" stroke-linecap="round" fill="none"/>
<path d="M224.60,256.20L232.20,256.20M226.50,252.82L230.30,259.58M230.30,252.82L226.50,259.58" stroke="#111" stroke-width="1.55" stroke-linecap="round" fill="none"/>
<path d="M200.50,491.80L208.10,491.80M202.40,488.42L206.20,495.18M206.20,488.42L202.40,495.18" stroke="#111" stroke-width="1.55" stroke-linecap="round" fill="none"/>
<path d="M140.90,718.00L148.50,718.00M142.80,714.62L146.60,721.38M146.60,714.62L142.80,721.38" stroke="#111" stroke-width="1.55" stroke-linecap="round" fill="none"/>
<line x1="436.2" y1="189.8" x2="634.6" y2="189.8" stroke="#666" stroke-width="1.3"/>
<line x1="436.2" y1="187.3" x2="436.2" y2="189.8" stroke="#777" stroke-width="0.8"/>
<text x="437.2" y="198.7" font-size="9.6" text-anchor="middle" font-weight="normal" font-style="normal" fill="#222" dominant-baseline="central" stroke="#222" stroke-width="0.18" textLength="5.00" lengthAdjust="spacingAndGlyphs">0</text>
<line x1="475.88" y1="187.3" x2="475.88" y2="189.8" stroke="#777" stroke-width="0.8"/>
<text x="476.88" y="198.7" font-size="9.6" text-anchor="middle" font-weight="normal" font-style="normal" fill="#222" dominant-baseline="central" stroke="#222" stroke-width="0.18" textLength="10.00" lengthAdjust="spacingAndGlyphs">20</text>
<line x1="515.56" y1="187.3" x2="515.56" y2="189.8" stroke="#777" stroke-width="0.8"/>
<text x="516.56" y="198.7" font-size="9.6" text-anchor="middle" font-weight="normal" font-style="normal" fill="#222" dominant-baseline="central" stroke="#222" stroke-width="0.18" textLength="10.00" lengthAdjust="spacingAndGlyphs">40</text>
<line x1="555.24" y1="187.3" x2="555.24" y2="189.8" stroke="#777" stroke-width="0.8"/>
<text x="556.24" y="198.7" font-size="9.6" text-anchor="middle" font-weight="normal" font-style="normal" fill="#222" dominant-baseline="central" stroke="#222" stroke-width="0.18" textLength="10.00" lengthAdjust="spacingAndGlyphs">60</text>
<line x1="594.92" y1="187.3" x2="594.92" y2="189.8" stroke="#777" stroke-width="0.8"/>
<text x="595.92" y="198.7" font-size="9.6" text-anchor="middle" font-weight="normal" font-style="normal" fill="#222" dominant-baseline="central" stroke="#222" stroke-width="0.18" textLength="10.00" lengthAdjust="spacingAndGlyphs">80</text>
<line x1="634.6" y1="187.3" x2="634.6" y2="189.8" stroke="#777" stroke-width="0.8"/>
<text x="635.6" y="198.7" font-size="9.6" text-anchor="middle" font-weight="normal" font-style="normal" fill="#222" dominant-baseline="central" stroke="#222" stroke-width="0.18" textLength="15.00" lengthAdjust="spacingAndGlyphs">100</text>
<line x1="582.1" y1="4.3" x2="589.9" y2="4.3" stroke="#1a1a1a" stroke-width="2.0"/>
<line x1="591.5" y1="4.3" x2="597.1" y2="4.3" stroke="#1a1a1a" stroke-width="2.0"/>
<line x1="607.2" y1="4.3" x2="619.2" y2="4.3" stroke="#1a1a1a" stroke-width="2.0"/>
<line x1="629.6" y1="4.3" x2="633.2" y2="4.3" stroke="#1a1a1a" stroke-width="2.0"/>
<text x="646.0" y="4.7" font-size="8.3" text-anchor="start" font-weight="normal" font-style="italic" fill="#222" dominant-baseline="central">Sor ame</text>
<line x1="574.2" y1="17.6" x2="582.1" y2="17.6" stroke="#1a1a1a" stroke-width="2.0"/>
<line x1="591.8" y1="17.6" x2="597.1" y2="17.6" stroke="#1a1a1a" stroke-width="2.0"/>
<line x1="614.4" y1="17.6" x2="616.4" y2="17.6" stroke="#1a1a1a" stroke-width="2.0"/>
<line x1="623.1" y1="17.6" x2="633.2" y2="17.6" stroke="#1a1a1a" stroke-width="2.0"/>
<text x="646.0" y="17.959999999999997" font-size="8.3" text-anchor="start" font-weight="normal" font-style="italic" fill="#222" dominant-baseline="central">Ile muc</text>
<line x1="574.2" y1="30.8" x2="579.7" y2="30.8" stroke="#1a1a1a" stroke-width="2.0"/>
<line x1="604.3" y1="30.8" x2="615.9" y2="30.8" stroke="#1a1a1a" stroke-width="2.0"/>
<text x="646.0" y="31.22" font-size="8.3" text-anchor="start" font-weight="normal" font-style="italic" fill="#222" dominant-baseline="central">Bet pap</text>
<line x1="559.7" y1="44.1" x2="563.8" y2="44.1" stroke="#1a1a1a" stroke-width="2.0"/>
<line x1="575.9" y1="44.1" x2="607.9" y2="44.1" stroke="#1a1a1a" stroke-width="2.0"/>
<line x1="618.3" y1="44.1" x2="623.1" y2="44.1" stroke="#1a1a1a" stroke-width="2.0"/>
<line x1="626.0" y1="44.1" x2="634.4" y2="44.1" stroke="#1a1a1a" stroke-width="2.0"/>
<text x="646.0" y="44.480000000000004" font-size="8.3" text-anchor="start" font-weight="normal" font-style="italic" fill="#222" dominant-baseline="central">Ace rub</text>
<line x1="529.2" y1="57.3" x2="556.6" y2="57.3" stroke="#1a1a1a" stroke-width="2.0"/>
<line x1="564.6" y1="57.3" x2="573.5" y2="57.3" stroke="#1a1a1a" stroke-width="2.0"/>
<text x="646.0" y="57.74" font-size="8.3" text-anchor="start" font-weight="normal" font-style="italic" fill="#222" dominant-baseline="central">Aln rug</text>
<line x1="523.7" y1="71.2" x2="533.3" y2="71.2" stroke="#1a1a1a" stroke-width="2.0"/>
<line x1="539.3" y1="71.2" x2="549.0" y2="71.2" stroke="#1a1a1a" stroke-width="2.0"/>
<line x1="551.4" y1="71.2" x2="564.0" y2="71.2" stroke="#1a1a1a" stroke-width="2.0"/>
<line x1="565.3" y1="71.2" x2="572.5" y2="71.2" stroke="#1a1a1a" stroke-width="2.0"/>
<text x="646.0" y="71.0" font-size="8.3" text-anchor="start" font-weight="normal" font-style="italic" fill="#222" dominant-baseline="central">Cal can</text>
<line x1="443.1" y1="83.6" x2="445.5" y2="83.6" stroke="#1a1a1a" stroke-width="2.0"/>
<line x1="449.1" y1="83.6" x2="457.5" y2="83.6" stroke="#1a1a1a" stroke-width="2.0"/>
<line x1="459.2" y1="83.6" x2="465.5" y2="83.6" stroke="#1a1a1a" stroke-width="2.0"/>
<line x1="482.1" y1="83.6" x2="484.5" y2="83.6" stroke="#1a1a1a" stroke-width="2.0"/>
<line x1="493.7" y1="83.6" x2="497.7" y2="83.6" stroke="#1a1a1a" stroke-width="2.0"/>
<line x1="500.2" y1="83.6" x2="509.3" y2="83.6" stroke="#1a1a1a" stroke-width="2.0"/>
<text x="646.0" y="84.26" font-size="8.3" text-anchor="start" font-weight="normal" font-style="italic" fill="#222" dominant-baseline="central">Kal ang</text>
<line x1="439.9" y1="96.9" x2="446.2" y2="96.9" stroke="#1a1a1a" stroke-width="2.0"/>
<line x1="458.7" y1="96.9" x2="502.1" y2="96.9" stroke="#1a1a1a" stroke-width="2.0"/>
<text x="646.0" y="97.52" font-size="8.3" text-anchor="start" font-weight="normal" font-style="italic" fill="#222" dominant-baseline="central">SPH RUB</text>
<line x1="438.2" y1="110.3" x2="441.9" y2="110.3" stroke="#1a1a1a" stroke-width="2.0"/>
<line x1="445.0" y1="110.3" x2="448.4" y2="110.3" stroke="#1a1a1a" stroke-width="2.0"/>
<line x1="467.9" y1="110.3" x2="470.3" y2="110.3" stroke="#1a1a1a" stroke-width="2.0"/>
<line x1="500.2" y1="110.3" x2="502.6" y2="110.3" stroke="#1a1a1a" stroke-width="2.0"/>
<line x1="505.0" y1="110.3" x2="514.6" y2="110.3" stroke="#1a1a1a" stroke-width="2.0"/>
<line x1="581.1" y1="110.3" x2="586.4" y2="110.3" stroke="#1a1a1a" stroke-width="2.0"/>
<text x="646.0" y="110.78" font-size="8.3" text-anchor="start" font-weight="normal" font-style="italic" fill="#222" dominant-baseline="central">SPH ANG</text>
<line x1="437.0" y1="123.6" x2="446.2" y2="123.6" stroke="#1a1a1a" stroke-width="2.0"/>
<line x1="448.4" y1="123.6" x2="458.7" y2="123.6" stroke="#1a1a1a" stroke-width="2.0"/>
<line x1="462.8" y1="123.6" x2="474.4" y2="123.6" stroke="#1a1a1a" stroke-width="2.0"/>
<line x1="477.3" y1="123.6" x2="485.9" y2="123.6" stroke="#1a1a1a" stroke-width="2.0"/>
<line x1="496.5" y1="123.6" x2="509.3" y2="123.6" stroke="#1a1a1a" stroke-width="2.0"/>
<line x1="573.9" y1="123.6" x2="576.3" y2="123.6" stroke="#1a1a1a" stroke-width="2.0"/>
<text x="646.0" y="124.04" font-size="8.3" text-anchor="start" font-weight="normal" font-style="italic" fill="#222" dominant-baseline="central">Mai tri</text>
<line x1="435.8" y1="137.1" x2="441.1" y2="137.1" stroke="#1a1a1a" stroke-width="2.0"/>
<line x1="449.8" y1="137.1" x2="457.5" y2="137.1" stroke="#1a1a1a" stroke-width="2.0"/>
<line x1="460.6" y1="137.1" x2="463.1" y2="137.1" stroke="#1a1a1a" stroke-width="2.0"/>
<line x1="469.6" y1="137.1" x2="476.8" y2="137.1" stroke="#1a1a1a" stroke-width="2.0"/>
<line x1="484.0" y1="137.1" x2="486.4" y2="137.1" stroke="#1a1a1a" stroke-width="2.0"/>
<line x1="501.4" y1="137.1" x2="503.8" y2="137.1" stroke="#1a1a1a" stroke-width="2.0"/>
<line x1="512.9" y1="137.1" x2="520.6" y2="137.1" stroke="#1a1a1a" stroke-width="2.0"/>
<text x="646.0" y="137.29999999999998" font-size="8.3" text-anchor="start" font-weight="normal" font-style="italic" fill="#222" dominant-baseline="central">Rho can</text>
<line x1="436.3" y1="150.3" x2="449.8" y2="150.3" stroke="#1a1a1a" stroke-width="2.0"/>
<line x1="458.0" y1="150.3" x2="460.4" y2="150.3" stroke="#1a1a1a" stroke-width="2.0"/>
<line x1="465.2" y1="150.3" x2="483.5" y2="150.3" stroke="#1a1a1a" stroke-width="2.0"/>
<line x1="486.4" y1="150.3" x2="492.9" y2="150.3" stroke="#1a1a1a" stroke-width="2.0"/>
<line x1="496.5" y1="150.3" x2="499.0" y2="150.3" stroke="#1a1a1a" stroke-width="2.0"/>
<line x1="503.3" y1="150.3" x2="516.1" y2="150.3" stroke="#1a1a1a" stroke-width="2.0"/>
<text x="646.0" y="150.55999999999997" font-size="8.3" text-anchor="start" font-weight="normal" font-style="italic" fill="#222" dominant-baseline="central">Cha cal</text>
<line x1="435.1" y1="164.1" x2="437.5" y2="164.1" stroke="#1a1a1a" stroke-width="2.0"/>
<line x1="515.8" y1="164.1" x2="531.0" y2="164.1" stroke="#1a1a1a" stroke-width="2.0"/>
<line x1="553.4" y1="164.1" x2="568.8" y2="164.1" stroke="#1a1a1a" stroke-width="2.0"/>
<text x="646.0" y="163.82" font-size="8.3" text-anchor="start" font-weight="normal" font-style="italic" fill="#222" dominant-baseline="central">Myr gal</text>
<line x1="435.1" y1="177.1" x2="439.9" y2="177.1" stroke="#1a1a1a" stroke-width="2.0"/>
<line x1="443.8" y1="177.1" x2="448.4" y2="177.1" stroke="#1a1a1a" stroke-width="2.0"/>
<line x1="461.1" y1="177.1" x2="463.5" y2="177.1" stroke="#1a1a1a" stroke-width="2.0"/>
<line x1="466.0" y1="177.1" x2="479.7" y2="177.1" stroke="#1a1a1a" stroke-width="2.0"/>
<line x1="484.0" y1="177.1" x2="496.8" y2="177.1" stroke="#1a1a1a" stroke-width="2.0"/>
<text x="646.0" y="177.07999999999998" font-size="8.3" text-anchor="start" font-weight="normal" font-style="italic" fill="#222" dominant-baseline="central">SPH MAG</text>
<line x1="443.6" y1="422.8" x2="621.5" y2="422.8" stroke="#666" stroke-width="1.3"/>
<line x1="443.6" y1="420.3" x2="443.6" y2="422.8" stroke="#777" stroke-width="0.8"/>
<text x="444.6" y="431.1" font-size="9.6" text-anchor="middle" font-weight="normal" font-style="normal" fill="#222" dominant-baseline="central" stroke="#222" stroke-width="0.18" textLength="5.00" lengthAdjust="spacingAndGlyphs">0</text>
<line x1="483.06" y1="420.3" x2="483.06" y2="422.8" stroke="#777" stroke-width="0.8"/>
<text x="484.06" y="431.1" font-size="9.6" text-anchor="middle" font-weight="normal" font-style="normal" fill="#222" dominant-baseline="central" stroke="#222" stroke-width="0.18" textLength="10.00" lengthAdjust="spacingAndGlyphs">20</text>
<line x1="522.52" y1="420.3" x2="522.52" y2="422.8" stroke="#777" stroke-width="0.8"/>
<text x="523.52" y="431.1" font-size="9.6" text-anchor="middle" font-weight="normal" font-style="normal" fill="#222" dominant-baseline="central" stroke="#222" stroke-width="0.18" textLength="10.00" lengthAdjust="spacingAndGlyphs">40</text>
<line x1="561.98" y1="420.3" x2="561.98" y2="422.8" stroke="#777" stroke-width="0.8"/>
<text x="562.98" y="431.1" font-size="9.6" text-anchor="middle" font-weight="normal" font-style="normal" fill="#222" dominant-baseline="central" stroke="#222" stroke-width="0.18" textLength="10.00" lengthAdjust="spacingAndGlyphs">60</text>
<line x1="601.44" y1="420.3" x2="601.44" y2="422.8" stroke="#777" stroke-width="0.8"/>
<text x="602.44" y="431.1" font-size="9.6" text-anchor="middle" font-weight="normal" font-style="normal" fill="#222" dominant-baseline="central" stroke="#222" stroke-width="0.18" textLength="10.00" lengthAdjust="spacingAndGlyphs">80</text>
<line x1="560.2" y1="217.6" x2="562.2" y2="217.6" stroke="#1a1a1a" stroke-width="2.0"/>
<line x1="570.6" y1="217.6" x2="574.2" y2="217.6" stroke="#1a1a1a" stroke-width="2.0"/>
<line x1="588.6" y1="217.6" x2="605.5" y2="217.6" stroke="#1a1a1a" stroke-width="2.0"/>
<line x1="616.4" y1="217.6" x2="621.2" y2="217.6" stroke="#1a1a1a" stroke-width="2.0"/>
<text x="644.0" y="217.1" font-size="8.3" text-anchor="start" font-weight="normal" font-style="italic" fill="#222" dominant-baseline="central">Cor can</text>
<line x1="548.4" y1="231.3" x2="550.1" y2="231.3" stroke="#1a1a1a" stroke-width="2.0"/>
<line x1="565.3" y1="231.3" x2="574.2" y2="231.3" stroke="#1a1a1a" stroke-width="2.0"/>
<line x1="579.5" y1="231.3" x2="621.2" y2="231.3" stroke="#1a1a1a" stroke-width="2.0"/>
<text x="644.0" y="230.69" font-size="8.3" text-anchor="start" font-weight="normal" font-style="italic" fill="#222" dominant-baseline="central">Abi bal</text>
<line x1="529.7" y1="244.7" x2="534.6" y2="244.7" stroke="#1a1a1a" stroke-width="2.0"/>
<line x1="538.2" y1="244.7" x2="540.0" y2="244.7" stroke="#1a1a1a" stroke-width="2.0"/>
<line x1="560.2" y1="244.7" x2="566.6" y2="244.7" stroke="#1a1a1a" stroke-width="2.0"/>
<line x1="571.6" y1="244.7" x2="576.7" y2="244.7" stroke="#1a1a1a" stroke-width="2.0"/>
<line x1="601.4" y1="244.7" x2="603.8" y2="244.7" stroke="#1a1a1a" stroke-width="2.0"/>
<text x="644.0" y="244.28" font-size="8.3" text-anchor="start" font-weight="normal" font-style="italic" fill="#222" dominant-baseline="central">Vib cas</text>
<line x1="508.1" y1="258.6" x2="568.0" y2="258.6" stroke="#1a1a1a" stroke-width="2.0"/>
<text x="644.0" y="257.87" font-size="8.3" text-anchor="start" font-weight="normal" font-style="italic" fill="#222" dominant-baseline="central">Car aqu</text>
<line x1="479.1" y1="271.9" x2="488.0" y2="271.9" stroke="#555" stroke-width="2.0"/>
<line x1="498.8" y1="271.9" x2="502.3" y2="271.9" stroke="#555" stroke-width="2.0"/>
<line x1="517.8" y1="271.9" x2="548.7" y2="271.9" stroke="#555" stroke-width="2.0"/>
<line x1="550.1" y1="271.9" x2="551.6" y2="271.9" stroke="#555" stroke-width="2.0"/>
<line x1="553.5" y1="271.9" x2="567.7" y2="271.9" stroke="#555" stroke-width="2.0"/>
<line x1="574.7" y1="271.9" x2="586.7" y2="271.9" stroke="#555" stroke-width="2.0"/>
<line x1="593.3" y1="271.9" x2="595.2" y2="271.9" stroke="#555" stroke-width="2.0"/>
<text x="644.0" y="271.46" font-size="8.3" text-anchor="start" font-weight="normal" font-style="italic" fill="#222" dominant-baseline="central">SPH FAL</text>
<line x1="455.1" y1="285.6" x2="458.2" y2="285.6" stroke="#1a1a1a" stroke-width="2.0"/>
<line x1="471.0" y1="285.6" x2="479.1" y2="285.6" stroke="#1a1a1a" stroke-width="2.0"/>
<line x1="487.1" y1="285.6" x2="494.7" y2="285.6" stroke="#1a1a1a" stroke-width="2.0"/>
<line x1="496.6" y1="285.6" x2="503.8" y2="285.6" stroke="#1a1a1a" stroke-width="2.0"/>
<text x="644.0" y="285.05" font-size="8.3" text-anchor="start" font-weight="normal" font-style="italic" fill="#222" dominant-baseline="central">SPH RUB</text>
<line x1="448.4" y1="299.0" x2="453.2" y2="299.0" stroke="#1a1a1a" stroke-width="2.0"/>
<line x1="462.3" y1="299.0" x2="466.4" y2="299.0" stroke="#1a1a1a" stroke-width="2.0"/>
<line x1="469.1" y1="299.0" x2="472.0" y2="299.0" stroke="#1a1a1a" stroke-width="2.0"/>
<line x1="494.9" y1="299.0" x2="497.3" y2="299.0" stroke="#1a1a1a" stroke-width="2.0"/>
<line x1="536.7" y1="299.0" x2="547.8" y2="299.0" stroke="#1a1a1a" stroke-width="2.0"/>
<line x1="565.2" y1="299.0" x2="570.1" y2="299.0" stroke="#1a1a1a" stroke-width="2.0"/>
<line x1="591.5" y1="299.0" x2="593.0" y2="299.0" stroke="#1a1a1a" stroke-width="2.0"/>
<text x="644.0" y="298.64" font-size="8.3" text-anchor="start" font-weight="normal" font-style="italic" fill="#222" dominant-baseline="central">Pic mar</text>
<line x1="448.4" y1="312.7" x2="449.8" y2="312.7" stroke="#1a1a1a" stroke-width="2.0"/>
<line x1="453.2" y1="312.7" x2="456.3" y2="312.7" stroke="#1a1a1a" stroke-width="2.0"/>
<line x1="462.3" y1="312.7" x2="472.0" y2="312.7" stroke="#1a1a1a" stroke-width="2.0"/>
<line x1="475.6" y1="312.7" x2="477.5" y2="312.7" stroke="#1a1a1a" stroke-width="2.0"/>
<line x1="491.7" y1="312.7" x2="496.5" y2="312.7" stroke="#1a1a1a" stroke-width="2.0"/>
<line x1="501.6" y1="312.7" x2="505.2" y2="312.7" stroke="#1a1a1a" stroke-width="2.0"/>
<line x1="512.2" y1="312.7" x2="546.0" y2="312.7" stroke="#1a1a1a" stroke-width="2.0"/>
<line x1="548.1" y1="312.7" x2="564.0" y2="312.7" stroke="#1a1a1a" stroke-width="2.0"/>
<text x="644.0" y="312.22999999999996" font-size="8.3" text-anchor="start" font-weight="normal" font-style="italic" fill="#222" dominant-baseline="central">Rho can</text>
<line x1="446.2" y1="326.3" x2="458.2" y2="326.3" stroke="#1a1a1a" stroke-width="2.0"/>
<line x1="466.4" y1="326.3" x2="468.4" y2="326.3" stroke="#1a1a1a" stroke-width="2.0"/>
<line x1="471.2" y1="326.3" x2="494.9" y2="326.3" stroke="#1a1a1a" stroke-width="2.0"/>
<line x1="496.7" y1="326.3" x2="499.6" y2="326.3" stroke="#1a1a1a" stroke-width="2.0"/>
<line x1="501.4" y1="326.3" x2="507.5" y2="326.3" stroke="#1a1a1a" stroke-width="2.0"/>
<text x="644.0" y="325.82" font-size="8.3" text-anchor="start" font-weight="normal" font-style="italic" fill="#222" dominant-baseline="central">Mai tri</text>
<line x1="443.7" y1="339.8" x2="457.7" y2="339.8" stroke="#555" stroke-width="2.0"/>
<line x1="459.7" y1="339.8" x2="466.9" y2="339.8" stroke="#555" stroke-width="2.0"/>
<line x1="484.0" y1="339.8" x2="497.8" y2="339.8" stroke="#555" stroke-width="2.0"/>
<line x1="501.1" y1="339.8" x2="507.7" y2="339.8" stroke="#555" stroke-width="2.0"/>
<line x1="566.6" y1="339.8" x2="571.4" y2="339.8" stroke="#555" stroke-width="2.0"/>
<line x1="594.7" y1="339.8" x2="599.5" y2="339.8" stroke="#555" stroke-width="2.0"/>
<text x="644.0" y="339.41" font-size="8.3" text-anchor="start" font-weight="normal" font-style="italic" fill="#222" dominant-baseline="central">SPH MAG</text>
<line x1="444.6" y1="353.8" x2="449.2" y2="353.8" stroke="#1a1a1a" stroke-width="2.0"/>
<line x1="451.6" y1="353.8" x2="453.8" y2="353.8" stroke="#1a1a1a" stroke-width="2.0"/>
<line x1="456.4" y1="353.8" x2="463.7" y2="353.8" stroke="#1a1a1a" stroke-width="2.0"/>
<line x1="467.3" y1="353.8" x2="468.9" y2="353.8" stroke="#1a1a1a" stroke-width="2.0"/>
<line x1="472.9" y1="353.8" x2="476.8" y2="353.8" stroke="#1a1a1a" stroke-width="2.0"/>
<line x1="479.0" y1="353.8" x2="494.5" y2="353.8" stroke="#1a1a1a" stroke-width="2.0"/>
<line x1="497.8" y1="353.8" x2="521.7" y2="353.8" stroke="#1a1a1a" stroke-width="2.0"/>
<line x1="528.0" y1="353.8" x2="530.0" y2="353.8" stroke="#1a1a1a" stroke-width="2.0"/>
<text x="644.0" y="353.0" font-size="8.3" text-anchor="start" font-weight="normal" font-style="italic" fill="#222" dominant-baseline="central">Rho gro</text>
<line x1="444.2" y1="367.1" x2="449.5" y2="367.1" stroke="#777" stroke-width="2.0"/>
<line x1="451.6" y1="367.1" x2="453.8" y2="367.1" stroke="#777" stroke-width="2.0"/>
<line x1="466.9" y1="367.1" x2="481.0" y2="367.1" stroke="#777" stroke-width="2.0"/>
<line x1="482.7" y1="367.1" x2="484.9" y2="367.1" stroke="#777" stroke-width="2.0"/>
<line x1="490.3" y1="367.1" x2="501.1" y2="367.1" stroke="#777" stroke-width="2.0"/>
<line x1="505.7" y1="367.1" x2="520.4" y2="367.1" stroke="#777" stroke-width="2.0"/>
<line x1="601.9" y1="367.1" x2="609.1" y2="367.1" stroke="#777" stroke-width="2.0"/>
<line x1="620.7" y1="367.1" x2="623.1" y2="367.1" stroke="#777" stroke-width="2.0"/>
<text x="644.0" y="366.59" font-size="8.3" text-anchor="start" font-weight="normal" font-style="italic" fill="#222" dominant-baseline="central">SPH ANG</text>
<line x1="441.6" y1="380.7" x2="452.9" y2="380.7" stroke="#333" stroke-width="2.0"/>
<line x1="457.7" y1="380.7" x2="463.0" y2="380.7" stroke="#333" stroke-width="2.0"/>
<line x1="466.9" y1="380.7" x2="471.8" y2="380.7" stroke="#333" stroke-width="2.0"/>
<line x1="479.8" y1="380.7" x2="488.9" y2="380.7" stroke="#333" stroke-width="2.0"/>
<line x1="501.1" y1="380.7" x2="505.7" y2="380.7" stroke="#333" stroke-width="2.0"/>
<line x1="523.0" y1="380.7" x2="549.6" y2="380.7" stroke="#333" stroke-width="2.0"/>
<line x1="572.2" y1="380.7" x2="580.7" y2="380.7" stroke="#333" stroke-width="2.0"/>
<line x1="593.0" y1="380.7" x2="609.1" y2="380.7" stroke="#333" stroke-width="2.0"/>
<text x="644.0" y="380.18" font-size="8.3" text-anchor="start" font-weight="normal" font-style="italic" fill="#222" dominant-baseline="central">Kal ang</text>
<line x1="441.6" y1="394.3" x2="449.2" y2="394.3" stroke="#444" stroke-width="2.0"/>
<line x1="455.5" y1="394.3" x2="470.9" y2="394.3" stroke="#444" stroke-width="2.0"/>
<line x1="474.2" y1="394.3" x2="480.1" y2="394.3" stroke="#444" stroke-width="2.0"/>
<line x1="482.0" y1="394.3" x2="490.2" y2="394.3" stroke="#444" stroke-width="2.0"/>
<line x1="501.1" y1="394.3" x2="505.7" y2="394.3" stroke="#444" stroke-width="2.0"/>
<line x1="516.2" y1="394.3" x2="521.5" y2="394.3" stroke="#444" stroke-width="2.0"/>
<text x="644.0" y="393.77" font-size="8.3" text-anchor="start" font-weight="normal" font-style="italic" fill="#222" dominant-baseline="central">Cha cal</text>
<line x1="443.1" y1="407.4" x2="458.2" y2="407.4" stroke="#1a1a1a" stroke-width="2.0"/>
<line x1="464.3" y1="407.4" x2="509.3" y2="407.4" stroke="#1a1a1a" stroke-width="2.0"/>
<text x="644.0" y="407.35999999999996" font-size="8.3" text-anchor="start" font-weight="normal" font-style="italic" fill="#222" dominant-baseline="central">Eri ang</text>
<line x1="427.3" y1="632.7" x2="608.9" y2="632.7" stroke="#666" stroke-width="1.3"/>
<line x1="427.3" y1="630.2" x2="427.3" y2="632.7" stroke="#777" stroke-width="0.8"/>
<text x="428.3" y="640.7" font-size="9.6" text-anchor="middle" font-weight="normal" font-style="normal" fill="#222" dominant-baseline="central" stroke="#222" stroke-width="0.18" textLength="5.00" lengthAdjust="spacingAndGlyphs">0</text>
<line x1="478.5" y1="630.2" x2="478.5" y2="632.7" stroke="#777" stroke-width="0.8"/>
<text x="479.5" y="640.7" font-size="9.6" text-anchor="middle" font-weight="normal" font-style="normal" fill="#222" dominant-baseline="central" stroke="#222" stroke-width="0.18" textLength="10.00" lengthAdjust="spacingAndGlyphs">20</text>
<line x1="529.7" y1="630.2" x2="529.7" y2="632.7" stroke="#777" stroke-width="0.8"/>
<text x="530.7" y="640.7" font-size="9.6" text-anchor="middle" font-weight="normal" font-style="normal" fill="#222" dominant-baseline="central" stroke="#222" stroke-width="0.18" textLength="10.00" lengthAdjust="spacingAndGlyphs">40</text>
<line x1="580.9" y1="630.2" x2="580.9" y2="632.7" stroke="#777" stroke-width="0.8"/>
<text x="581.9" y="640.7" font-size="9.6" text-anchor="middle" font-weight="normal" font-style="normal" fill="#222" dominant-baseline="central" stroke="#222" stroke-width="0.18" textLength="10.00" lengthAdjust="spacingAndGlyphs">60</text>
<line x1="541.7" y1="448.3" x2="545.0" y2="448.3" stroke="#1a1a1a" stroke-width="2.2" stroke-dasharray="2.5 0.35"/>
<line x1="547.4" y1="448.3" x2="557.7" y2="448.3" stroke="#1a1a1a" stroke-width="2.2" stroke-dasharray="2.5 0.35"/>
<line x1="560.1" y1="448.3" x2="579.1" y2="448.3" stroke="#1a1a1a" stroke-width="2.2" stroke-dasharray="2.5 0.35"/>
<line x1="580.1" y1="448.3" x2="584.8" y2="448.3" stroke="#1a1a1a" stroke-width="2.2" stroke-dasharray="2.5 0.35"/>
<line x1="607.2" y1="448.3" x2="614.7" y2="448.3" stroke="#1a1a1a" stroke-width="2.2" stroke-dasharray="2.5 0.35"/>
<text x="645.3" y="448.09999999999997" font-size="8.3" text-anchor="start" font-weight="normal" font-style="italic" fill="#222" dominant-baseline="central">Pte aqu</text>
<line x1="536.8" y1="460.2" x2="539.6" y2="460.2" stroke="#1a1a1a" stroke-width="2.2"/>
<line x1="551.9" y1="460.2" x2="553.6" y2="460.2" stroke="#1a1a1a" stroke-width="2.2"/>
<line x1="555.6" y1="460.2" x2="557.7" y2="460.2" stroke="#1a1a1a" stroke-width="2.2"/>
<line x1="561.3" y1="460.2" x2="578.5" y2="460.2" stroke="#1a1a1a" stroke-width="2.2" stroke-dasharray="2.5 0.35"/>
<line x1="588.4" y1="460.2" x2="590.1" y2="460.2" stroke="#1a1a1a" stroke-width="2.2"/>
<line x1="609.0" y1="460.2" x2="613.0" y2="460.2" stroke="#1a1a1a" stroke-width="2.2" stroke-dasharray="2.5 0.35"/>
<text x="645.3" y="460.67999999999995" font-size="8.3" text-anchor="start" font-weight="normal" font-style="italic" fill="#222" dominant-baseline="central">Cor can</text>
<line x1="536.6" y1="472.6" x2="544.0" y2="472.6" stroke="#1a1a1a" stroke-width="2.2" stroke-dasharray="2.5 0.35"/>
<line x1="548.4" y1="472.6" x2="552.8" y2="472.6" stroke="#1a1a1a" stroke-width="2.2" stroke-dasharray="2.5 0.35"/>
<line x1="558.6" y1="472.6" x2="563.4" y2="472.6" stroke="#1a1a1a" stroke-width="2.2" stroke-dasharray="2.5 0.35"/>
<line x1="572.7" y1="472.6" x2="575.8" y2="472.6" stroke="#1a1a1a" stroke-width="2.2" stroke-dasharray="2.5 0.35"/>
<text x="645.3" y="473.26" font-size="8.3" text-anchor="start" font-weight="normal" font-style="italic" fill="#222" dominant-baseline="central">PLE SCH</text>
<line x1="535.2" y1="485.2" x2="554.0" y2="485.2" stroke="#1a1a1a" stroke-width="2.2" stroke-dasharray="2.5 0.35"/>
<line x1="556.0" y1="485.2" x2="559.5" y2="485.2" stroke="#1a1a1a" stroke-width="2.2" stroke-dasharray="2.5 0.35"/>
<line x1="566.7" y1="485.2" x2="579.7" y2="485.2" stroke="#1a1a1a" stroke-width="2.2" stroke-dasharray="2.5 0.35"/>
<line x1="584.4" y1="485.2" x2="592.5" y2="485.2" stroke="#1a1a1a" stroke-width="2.2" stroke-dasharray="2.5 0.35"/>
<line x1="596.0" y1="485.2" x2="614.5" y2="485.2" stroke="#1a1a1a" stroke-width="2.2" stroke-dasharray="2.5 0.35"/>
<text x="645.3" y="485.84" font-size="8.3" text-anchor="start" font-weight="normal" font-style="italic" fill="#222" dominant-baseline="central">Vac ang</text>
<line x1="532.8" y1="497.7" x2="534.8" y2="497.7" stroke="#1a1a1a" stroke-width="2.2"/>
<line x1="537.4" y1="497.7" x2="541.0" y2="497.7" stroke="#1a1a1a" stroke-width="2.2" stroke-dasharray="2.5 0.35"/>
<line x1="558.6" y1="497.7" x2="563.6" y2="497.7" stroke="#1a1a1a" stroke-width="2.2" stroke-dasharray="2.5 0.35"/>
<line x1="568.9" y1="497.7" x2="574.3" y2="497.7" stroke="#1a1a1a" stroke-width="2.2" stroke-dasharray="2.5 0.35"/>
<line x1="581.9" y1="497.7" x2="583.5" y2="497.7" stroke="#1a1a1a" stroke-width="2.2"/>
<line x1="595.1" y1="497.7" x2="598.2" y2="497.7" stroke="#1a1a1a" stroke-width="2.2" stroke-dasharray="2.5 0.35"/>
<text x="645.3" y="498.41999999999996" font-size="8.3" text-anchor="start" font-weight="normal" font-style="italic" fill="#222" dominant-baseline="central">Pic mar</text>
<line x1="530.4" y1="510.2" x2="532.3" y2="510.2" stroke="#1a1a1a" stroke-width="2.2"/>
<line x1="535.0" y1="510.2" x2="554.0" y2="510.2" stroke="#1a1a1a" stroke-width="2.2" stroke-dasharray="2.5 0.35"/>
<line x1="562.8" y1="510.2" x2="567.3" y2="510.2" stroke="#1a1a1a" stroke-width="2.2" stroke-dasharray="2.5 0.35"/>
<line x1="579.0" y1="510.2" x2="583.8" y2="510.2" stroke="#1a1a1a" stroke-width="2.2" stroke-dasharray="2.5 0.35"/>
<text x="645.3" y="510.99999999999994" font-size="8.3" text-anchor="start" font-weight="normal" font-style="italic" fill="#222" dominant-baseline="central">Gau pro</text>
<line x1="457.3" y1="522.6" x2="494.7" y2="522.6" stroke="#1a1a1a" stroke-width="2.2" stroke-dasharray="2.5 0.35"/>
<line x1="498.4" y1="522.6" x2="505.2" y2="522.6" stroke="#1a1a1a" stroke-width="2.2" stroke-dasharray="2.5 0.35"/>
<line x1="509.6" y1="522.6" x2="513.8" y2="522.6" stroke="#1a1a1a" stroke-width="2.2" stroke-dasharray="2.5 0.35"/>
<line x1="517.4" y1="522.6" x2="523.4" y2="522.6" stroke="#1a1a1a" stroke-width="2.2" stroke-dasharray="2.5 0.35"/>
<line x1="532.0" y1="522.6" x2="533.6" y2="522.6" stroke="#1a1a1a" stroke-width="2.2"/>
<text x="645.3" y="523.58" font-size="8.3" text-anchor="start" font-weight="normal" font-style="italic" fill="#222" dominant-baseline="central">Mai tri</text>
<line x1="448.9" y1="534.6" x2="450.8" y2="534.6" stroke="#1a1a1a" stroke-width="2.2"/>
<line x1="522.9" y1="534.6" x2="537.5" y2="534.6" stroke="#1a1a1a" stroke-width="2.2" stroke-dasharray="2.5 0.35"/>
<text x="645.3" y="536.1600000000001" font-size="8.3" text-anchor="start" font-weight="normal" font-style="italic" fill="#222" dominant-baseline="central">Rho can</text>
<line x1="439.3" y1="547.4" x2="441.2" y2="547.4" stroke="#1a1a1a" stroke-width="2.2"/>
<line x1="489.4" y1="547.4" x2="521.2" y2="547.4" stroke="#1a1a1a" stroke-width="2.2" stroke-dasharray="2.5 0.35"/>
<line x1="523.1" y1="547.4" x2="528.9" y2="547.4" stroke="#1a1a1a" stroke-width="2.2" stroke-dasharray="2.5 0.35"/>
<line x1="532.0" y1="547.4" x2="535.1" y2="547.4" stroke="#1a1a1a" stroke-width="2.2" stroke-dasharray="2.5 0.35"/>
<text x="645.3" y="548.74" font-size="8.3" text-anchor="start" font-weight="normal" font-style="italic" fill="#222" dominant-baseline="central">SPH FAL</text>
<line x1="430.1" y1="558.9" x2="432.0" y2="558.9" stroke="#1a1a1a" stroke-width="2.2"/>
<line x1="458.5" y1="558.9" x2="460.2" y2="558.9" stroke="#1a1a1a" stroke-width="2.2"/>
<line x1="526.7" y1="558.9" x2="544.0" y2="558.9" stroke="#1a1a1a" stroke-width="2.2" stroke-dasharray="2.5 0.35"/>
<text x="645.3" y="561.32" font-size="8.3" text-anchor="start" font-weight="normal" font-style="italic" fill="#222" dominant-baseline="central">Kal ang</text>
<line x1="428.9" y1="571.4" x2="432.0" y2="571.4" stroke="#1a1a1a" stroke-width="2.2" stroke-dasharray="2.5 0.35"/>
<line x1="435.7" y1="571.4" x2="438.1" y2="571.4" stroke="#1a1a1a" stroke-width="2.2"/>
<line x1="441.7" y1="571.4" x2="474.9" y2="571.4" stroke="#1a1a1a" stroke-width="2.2" stroke-dasharray="2.5 0.35"/>
<line x1="479.0" y1="571.4" x2="480.7" y2="571.4" stroke="#1a1a1a" stroke-width="2.2"/>
<line x1="483.8" y1="571.4" x2="487.0" y2="571.4" stroke="#1a1a1a" stroke-width="2.2" stroke-dasharray="2.5 0.35"/>
<line x1="497.1" y1="571.4" x2="500.0" y2="571.4" stroke="#1a1a1a" stroke-width="2.2"/>
<line x1="508.6" y1="571.4" x2="512.7" y2="571.4" stroke="#1a1a1a" stroke-width="2.2" stroke-dasharray="2.5 0.35"/>
<line x1="518.8" y1="571.4" x2="521.7" y2="571.4" stroke="#1a1a1a" stroke-width="2.2"/>
<line x1="528.4" y1="571.4" x2="530.1" y2="571.4" stroke="#1a1a1a" stroke-width="2.2"/>
<text x="645.3" y="573.9" font-size="8.3" text-anchor="start" font-weight="normal" font-style="italic" fill="#222" dominant-baseline="central">Car can</text>
<line x1="427.7" y1="584.0" x2="438.1" y2="584.0" stroke="#1a1a1a" stroke-width="2.2" stroke-dasharray="2.5 0.35"/>
<line x1="442.9" y1="584.0" x2="450.1" y2="584.0" stroke="#1a1a1a" stroke-width="2.2" stroke-dasharray="2.5 0.35"/>
<line x1="463.8" y1="584.0" x2="465.8" y2="584.0" stroke="#1a1a1a" stroke-width="2.2"/>
<line x1="507.4" y1="584.0" x2="509.1" y2="584.0" stroke="#1a1a1a" stroke-width="2.2"/>
<text x="645.3" y="586.48" font-size="8.3" text-anchor="start" font-weight="normal" font-style="italic" fill="#222" dominant-baseline="central">SPH RUB</text>
<line x1="426.0" y1="596.0" x2="432.0" y2="596.0" stroke="#1a1a1a" stroke-width="2.2" stroke-dasharray="2.5 0.35"/>
<line x1="434.0" y1="596.0" x2="446.5" y2="596.0" stroke="#1a1a1a" stroke-width="2.2" stroke-dasharray="2.5 0.35"/>
<line x1="448.9" y1="596.0" x2="452.5" y2="596.0" stroke="#1a1a1a" stroke-width="2.2" stroke-dasharray="2.5 0.35"/>
<line x1="454.4" y1="596.0" x2="458.5" y2="596.0" stroke="#1a1a1a" stroke-width="2.2" stroke-dasharray="2.5 0.35"/>
<line x1="461.0" y1="596.0" x2="470.1" y2="596.0" stroke="#1a1a1a" stroke-width="2.2" stroke-dasharray="2.5 0.35"/>
<line x1="472.3" y1="596.0" x2="494.7" y2="596.0" stroke="#1a1a1a" stroke-width="2.2" stroke-dasharray="2.5 0.35"/>
<line x1="497.8" y1="596.0" x2="501.4" y2="596.0" stroke="#1a1a1a" stroke-width="2.2" stroke-dasharray="2.5 0.35"/>
<line x1="504.3" y1="596.0" x2="524.8" y2="596.0" stroke="#1a1a1a" stroke-width="2.2" stroke-dasharray="2.5 0.35"/>
<text x="645.3" y="599.0600000000001" font-size="8.3" text-anchor="start" font-weight="normal" font-style="italic" fill="#222" dominant-baseline="central">Cha cal</text>
<line x1="426.7" y1="608.8" x2="429.6" y2="608.8" stroke="#1a1a1a" stroke-width="2.2"/>
<line x1="435.2" y1="608.8" x2="444.1" y2="608.8" stroke="#1a1a1a" stroke-width="2.2" stroke-dasharray="2.5 0.35"/>
<line x1="446.5" y1="608.8" x2="488.7" y2="608.8" stroke="#1a1a1a" stroke-width="2.2" stroke-dasharray="2.5 0.35"/>
<line x1="497.1" y1="608.8" x2="499.5" y2="608.8" stroke="#1a1a1a" stroke-width="2.2"/>
<line x1="504.3" y1="608.8" x2="506.7" y2="608.8" stroke="#1a1a1a" stroke-width="2.2"/>
<text x="645.3" y="611.64" font-size="8.3" text-anchor="start" font-weight="normal" font-style="italic" fill="#222" dominant-baseline="central">SPH ANG</text>
<line x1="426.0" y1="620.8" x2="442.2" y2="620.8" stroke="#1a1a1a" stroke-width="2.2" stroke-dasharray="2.5 0.35"/>
<line x1="445.3" y1="620.8" x2="450.1" y2="620.8" stroke="#1a1a1a" stroke-width="2.2" stroke-dasharray="2.5 0.35"/>
<line x1="453.0" y1="620.8" x2="456.6" y2="620.8" stroke="#1a1a1a" stroke-width="2.2" stroke-dasharray="2.5 0.35"/>
<line x1="461.4" y1="620.8" x2="463.4" y2="620.8" stroke="#1a1a1a" stroke-width="2.2"/>
<line x1="472.3" y1="620.8" x2="477.1" y2="620.8" stroke="#1a1a1a" stroke-width="2.2" stroke-dasharray="2.5 0.35"/>
<line x1="491.8" y1="620.8" x2="494.2" y2="620.8" stroke="#1a1a1a" stroke-width="2.2"/>
<line x1="499.5" y1="620.8" x2="501.4" y2="620.8" stroke="#1a1a1a" stroke-width="2.2"/>
<line x1="504.8" y1="620.8" x2="506.7" y2="620.8" stroke="#1a1a1a" stroke-width="2.2"/>
<text x="645.3" y="624.22" font-size="8.3" text-anchor="start" font-weight="normal" font-style="italic" fill="#222" dominant-baseline="central">Vac oxy</text>
<line x1="431.2" y1="864.9" x2="614.3" y2="864.9" stroke="#666" stroke-width="1.3"/>
<line x1="431.2" y1="862.4" x2="431.2" y2="864.9" stroke="#777" stroke-width="0.8"/>
<text x="432.2" y="875.5" font-size="9.6" text-anchor="middle" font-weight="normal" font-style="normal" fill="#222" dominant-baseline="central" stroke="#222" stroke-width="0.18" textLength="5.00" lengthAdjust="spacingAndGlyphs">0</text>
<line x1="471.76" y1="862.4" x2="471.76" y2="864.9" stroke="#777" stroke-width="0.8"/>
<text x="472.76" y="875.5" font-size="9.6" text-anchor="middle" font-weight="normal" font-style="normal" fill="#222" dominant-baseline="central" stroke="#222" stroke-width="0.18" textLength="10.00" lengthAdjust="spacingAndGlyphs">20</text>
<line x1="512.3199999999999" y1="862.4" x2="512.3199999999999" y2="864.9" stroke="#777" stroke-width="0.8"/>
<text x="513.3199999999999" y="875.5" font-size="9.6" text-anchor="middle" font-weight="normal" font-style="normal" fill="#222" dominant-baseline="central" stroke="#222" stroke-width="0.18" textLength="10.00" lengthAdjust="spacingAndGlyphs">40</text>
<line x1="552.88" y1="862.4" x2="552.88" y2="864.9" stroke="#777" stroke-width="0.8"/>
<text x="553.88" y="875.5" font-size="9.6" text-anchor="middle" font-weight="normal" font-style="normal" fill="#222" dominant-baseline="central" stroke="#222" stroke-width="0.18" textLength="10.00" lengthAdjust="spacingAndGlyphs">60</text>
<line x1="593.44" y1="862.4" x2="593.44" y2="864.9" stroke="#777" stroke-width="0.8"/>
<text x="594.44" y="875.5" font-size="9.6" text-anchor="middle" font-weight="normal" font-style="normal" fill="#222" dominant-baseline="central" stroke="#222" stroke-width="0.18" textLength="10.00" lengthAdjust="spacingAndGlyphs">80</text>
<line x1="562.8" y1="663.8" x2="568.1" y2="663.8" stroke="#1a1a1a" stroke-width="2.2" stroke-dasharray="2.5 0.35"/>
<line x1="584.1" y1="663.8" x2="609.8" y2="663.8" stroke="#1a1a1a" stroke-width="2.2" stroke-dasharray="2.5 0.35"/>
<text x="644.0" y="663.5" font-size="8.3" text-anchor="start" font-weight="normal" font-style="italic" fill="#222" dominant-baseline="central">Pop tre</text>
<line x1="557.8" y1="676.3" x2="559.9" y2="676.3" stroke="#1a1a1a" stroke-width="2.2"/>
<line x1="563.7" y1="676.3" x2="567.5" y2="676.3" stroke="#1a1a1a" stroke-width="2.2" stroke-dasharray="2.5 0.35"/>
<line x1="569.5" y1="676.3" x2="584.1" y2="676.3" stroke="#1a1a1a" stroke-width="2.2" stroke-dasharray="2.5 0.35"/>
<line x1="585.6" y1="676.3" x2="597.3" y2="676.3" stroke="#1a1a1a" stroke-width="2.2" stroke-dasharray="2.5 0.35"/>
<line x1="598.7" y1="676.3" x2="604.6" y2="676.3" stroke="#1a1a1a" stroke-width="2.2" stroke-dasharray="2.5 0.35"/>
<text x="644.0" y="676.25" font-size="8.3" text-anchor="start" font-weight="normal" font-style="italic" fill="#222" dominant-baseline="central">Pte aqu</text>
<line x1="552.9" y1="689.2" x2="554.9" y2="689.2" stroke="#1a1a1a" stroke-width="2.2"/>
<line x1="556.4" y1="689.2" x2="558.7" y2="689.2" stroke="#1a1a1a" stroke-width="2.2"/>
<line x1="560.8" y1="689.2" x2="573.9" y2="689.2" stroke="#1a1a1a" stroke-width="2.2" stroke-dasharray="2.5 0.35"/>
<line x1="587.0" y1="689.2" x2="597.8" y2="689.2" stroke="#1a1a1a" stroke-width="2.2" stroke-dasharray="2.5 0.35"/>
<line x1="602.5" y1="689.2" x2="614.2" y2="689.2" stroke="#1a1a1a" stroke-width="2.2" stroke-dasharray="2.5 0.35"/>
<text x="644.0" y="689.0" font-size="8.3" text-anchor="start" font-weight="normal" font-style="italic" fill="#222" dominant-baseline="central">Abi bal</text>
<line x1="497.4" y1="701.7" x2="543.2" y2="701.7" stroke="#1a1a1a" stroke-width="2.2" stroke-dasharray="2.5 0.35"/>
<line x1="547.6" y1="701.7" x2="553.5" y2="701.7" stroke="#1a1a1a" stroke-width="2.2" stroke-dasharray="2.5 0.35"/>
<text x="644.0" y="701.75" font-size="8.3" text-anchor="start" font-weight="normal" font-style="italic" fill="#222" dominant-baseline="central">Car tri</text>
<line x1="474.6" y1="714.3" x2="477.0" y2="714.3" stroke="#1a1a1a" stroke-width="2.2"/>
<line x1="481.1" y1="714.3" x2="482.8" y2="714.3" stroke="#1a1a1a" stroke-width="2.2"/>
<line x1="484.9" y1="714.3" x2="486.9" y2="714.3" stroke="#1a1a1a" stroke-width="2.2"/>
<line x1="493.0" y1="714.3" x2="503.2" y2="714.3" stroke="#1a1a1a" stroke-width="2.2" stroke-dasharray="2.5 0.35"/>
<line x1="519.0" y1="714.3" x2="540.3" y2="714.3" stroke="#1a1a1a" stroke-width="2.2" stroke-dasharray="2.5 0.35"/>
<line x1="557.0" y1="714.3" x2="559.3" y2="714.3" stroke="#1a1a1a" stroke-width="2.2"/>
<line x1="563.7" y1="714.3" x2="567.5" y2="714.3" stroke="#1a1a1a" stroke-width="2.2" stroke-dasharray="2.5 0.35"/>
<text x="644.0" y="714.5" font-size="8.3" text-anchor="start" font-weight="normal" font-style="italic" fill="#222" dominant-baseline="central">Lar lar</text>
<line x1="448.4" y1="726.5" x2="452.7" y2="726.5" stroke="#1a1a1a" stroke-width="2.2" stroke-dasharray="2.5 0.35"/>
<line x1="463.0" y1="726.5" x2="465.0" y2="726.5" stroke="#1a1a1a" stroke-width="2.2"/>
<line x1="468.8" y1="726.5" x2="484.9" y2="726.5" stroke="#1a1a1a" stroke-width="2.2" stroke-dasharray="2.5 0.35"/>
<line x1="492.2" y1="726.5" x2="509.7" y2="726.5" stroke="#1a1a1a" stroke-width="2.2" stroke-dasharray="2.5 0.35"/>
<line x1="519.0" y1="726.5" x2="543.2" y2="726.5" stroke="#1a1a1a" stroke-width="2.2" stroke-dasharray="2.5 0.35"/>
<line x1="552.9" y1="726.5" x2="555.8" y2="726.5" stroke="#1a1a1a" stroke-width="2.2"/>
<text x="644.0" y="727.25" font-size="8.3" text-anchor="start" font-weight="normal" font-style="italic" fill="#222" dominant-baseline="central">SPH MAG</text>
<line x1="444.0" y1="739.7" x2="446.0" y2="739.7" stroke="#1a1a1a" stroke-width="2.2"/>
<line x1="459.2" y1="739.7" x2="461.5" y2="739.7" stroke="#1a1a1a" stroke-width="2.2"/>
<line x1="489.8" y1="739.7" x2="501.5" y2="739.7" stroke="#1a1a1a" stroke-width="2.2" stroke-dasharray="2.5 0.35"/>
<line x1="503.8" y1="739.7" x2="514.0" y2="739.7" stroke="#1a1a1a" stroke-width="2.2" stroke-dasharray="2.5 0.35"/>
<line x1="528.6" y1="739.7" x2="534.5" y2="739.7" stroke="#1a1a1a" stroke-width="2.2" stroke-dasharray="2.5 0.35"/>
<line x1="538.9" y1="739.7" x2="547.6" y2="739.7" stroke="#1a1a1a" stroke-width="2.2" stroke-dasharray="2.5 0.35"/>
<line x1="551.4" y1="739.7" x2="553.5" y2="739.7" stroke="#1a1a1a" stroke-width="2.2"/>
<text x="644.0" y="740.0" font-size="8.3" text-anchor="start" font-weight="normal" font-style="italic" fill="#222" dominant-baseline="central">Pic mar</text>
<line x1="438.1" y1="751.9" x2="440.2" y2="751.9" stroke="#1a1a1a" stroke-width="2.2"/>
<line x1="479.9" y1="751.9" x2="489.2" y2="751.9" stroke="#1a1a1a" stroke-width="2.2" stroke-dasharray="2.5 0.35"/>
<line x1="496.5" y1="751.9" x2="498.6" y2="751.9" stroke="#1a1a1a" stroke-width="2.2"/>
<line x1="506.2" y1="751.9" x2="525.7" y2="751.9" stroke="#1a1a1a" stroke-width="2.2" stroke-dasharray="2.5 0.35"/>
<line x1="527.8" y1="751.9" x2="530.1" y2="751.9" stroke="#1a1a1a" stroke-width="2.2"/>
<line x1="533.9" y1="751.9" x2="539.5" y2="751.9" stroke="#1a1a1a" stroke-width="2.2" stroke-dasharray="2.5 0.35"/>
<line x1="544.7" y1="751.9" x2="553.5" y2="751.9" stroke="#1a1a1a" stroke-width="2.2" stroke-dasharray="2.5 0.35"/>
<line x1="556.4" y1="751.9" x2="573.9" y2="751.9" stroke="#1a1a1a" stroke-width="2.2" stroke-dasharray="2.5 0.35"/>
<line x1="592.9" y1="751.9" x2="609.8" y2="751.9" stroke="#1a1a1a" stroke-width="2.2" stroke-dasharray="2.5 0.35"/>
<text x="644.0" y="752.75" font-size="8.3" text-anchor="start" font-weight="normal" font-style="italic" fill="#222" dominant-baseline="central">Vib cas</text>
<line x1="438.1" y1="765.2" x2="440.2" y2="765.2" stroke="#1a1a1a" stroke-width="2.2"/>
<line x1="489.8" y1="765.2" x2="530.1" y2="765.2" stroke="#1a1a1a" stroke-width="2.2" stroke-dasharray="2.5 0.35"/>
<line x1="531.6" y1="765.2" x2="534.5" y2="765.2" stroke="#1a1a1a" stroke-width="2.2"/>
<line x1="539.5" y1="765.2" x2="560.8" y2="765.2" stroke="#1a1a1a" stroke-width="2.2" stroke-dasharray="2.5 0.35"/>
<line x1="563.7" y1="765.2" x2="569.5" y2="765.2" stroke="#1a1a1a" stroke-width="2.2" stroke-dasharray="2.5 0.35"/>
<text x="644.0" y="765.5" font-size="8.3" text-anchor="start" font-weight="normal" font-style="italic" fill="#222" dominant-baseline="central">SPH FAL</text>
<line x1="432.3" y1="777.5" x2="435.2" y2="777.5" stroke="#1a1a1a" stroke-width="2.2"/>
<line x1="438.1" y1="777.5" x2="443.1" y2="777.5" stroke="#1a1a1a" stroke-width="2.2" stroke-dasharray="2.5 0.35"/>
<line x1="460.0" y1="777.5" x2="461.5" y2="777.5" stroke="#1a1a1a" stroke-width="2.2"/>
<line x1="486.9" y1="777.5" x2="489.2" y2="777.5" stroke="#1a1a1a" stroke-width="2.2"/>
<line x1="492.2" y1="777.5" x2="530.1" y2="777.5" stroke="#1a1a1a" stroke-width="2.2" stroke-dasharray="2.5 0.35"/>
<line x1="531.6" y1="777.5" x2="540.3" y2="777.5" stroke="#1a1a1a" stroke-width="2.2" stroke-dasharray="2.5 0.35"/>
<line x1="552.0" y1="777.5" x2="565.1" y2="777.5" stroke="#1a1a1a" stroke-width="2.2" stroke-dasharray="2.5 0.35"/>
<line x1="584.1" y1="777.5" x2="590.8" y2="777.5" stroke="#1a1a1a" stroke-width="2.2" stroke-dasharray="2.5 0.35"/>
<text x="644.0" y="778.25" font-size="8.3" text-anchor="start" font-weight="normal" font-style="italic" fill="#222" dominant-baseline="central">Ile muc</text>
<line x1="431.0" y1="790.4" x2="433.0" y2="790.4" stroke="#1a1a1a" stroke-width="2.2"/>
<line x1="435.3" y1="790.4" x2="439.2" y2="790.4" stroke="#1a1a1a" stroke-width="2.2" stroke-dasharray="2.5 0.35"/>
<line x1="442.0" y1="790.4" x2="443.8" y2="790.4" stroke="#1a1a1a" stroke-width="2.2"/>
<line x1="445.1" y1="790.4" x2="449.9" y2="790.4" stroke="#1a1a1a" stroke-width="2.2" stroke-dasharray="2.5 0.35"/>
<line x1="451.2" y1="790.4" x2="491.3" y2="790.4" stroke="#1a1a1a" stroke-width="2.2" stroke-dasharray="2.5 0.35"/>
<line x1="492.3" y1="790.4" x2="494.9" y2="790.4" stroke="#1a1a1a" stroke-width="2.2"/>
<text x="644.0" y="791.0" font-size="8.3" text-anchor="start" font-weight="normal" font-style="italic" fill="#222" dominant-baseline="central">Cha cal</text>
<line x1="430.0" y1="803.0" x2="455.0" y2="803.0" stroke="#1a1a1a" stroke-width="2.2" stroke-dasharray="2.5 0.35"/>
<line x1="459.1" y1="803.0" x2="460.6" y2="803.0" stroke="#1a1a1a" stroke-width="2.2"/>
<line x1="463.7" y1="803.0" x2="465.8" y2="803.0" stroke="#1a1a1a" stroke-width="2.2"/>
<line x1="469.8" y1="803.0" x2="471.9" y2="803.0" stroke="#1a1a1a" stroke-width="2.2"/>
<line x1="473.9" y1="803.0" x2="477.5" y2="803.0" stroke="#1a1a1a" stroke-width="2.2" stroke-dasharray="2.5 0.35"/>
<line x1="484.6" y1="803.0" x2="486.2" y2="803.0" stroke="#1a1a1a" stroke-width="2.2"/>
<line x1="487.7" y1="803.0" x2="490.3" y2="803.0" stroke="#1a1a1a" stroke-width="2.2"/>
<line x1="493.8" y1="803.0" x2="495.4" y2="803.0" stroke="#1a1a1a" stroke-width="2.2"/>
<line x1="496.9" y1="803.0" x2="500.0" y2="803.0" stroke="#1a1a1a" stroke-width="2.2" stroke-dasharray="2.5 0.35"/>
<line x1="509.1" y1="803.0" x2="516.1" y2="803.0" stroke="#1a1a1a" stroke-width="2.2" stroke-dasharray="2.5 0.35"/>
<line x1="519.0" y1="803.0" x2="521.4" y2="803.0" stroke="#1a1a1a" stroke-width="2.2"/>
<line x1="523.7" y1="803.0" x2="549.1" y2="803.0" stroke="#1a1a1a" stroke-width="2.2" stroke-dasharray="2.5 0.35"/>
<line x1="552.9" y1="803.0" x2="557.8" y2="803.0" stroke="#1a1a1a" stroke-width="2.2" stroke-dasharray="2.5 0.35"/>
<line x1="560.8" y1="803.0" x2="562.8" y2="803.0" stroke="#1a1a1a" stroke-width="2.2"/>
<line x1="592.0" y1="803.0" x2="594.3" y2="803.0" stroke="#1a1a1a" stroke-width="2.2"/>
<text x="644.0" y="803.75" font-size="8.3" text-anchor="start" font-weight="normal" font-style="italic" fill="#222" dominant-baseline="central">Kal ang</text>
<line x1="430.0" y1="815.3" x2="436.1" y2="815.3" stroke="#1a1a1a" stroke-width="2.2" stroke-dasharray="2.5 0.35"/>
<line x1="441.2" y1="815.3" x2="443.1" y2="815.3" stroke="#1a1a1a" stroke-width="2.2"/>
<line x1="446.1" y1="815.3" x2="448.9" y2="815.3" stroke="#1a1a1a" stroke-width="2.2"/>
<line x1="451.5" y1="815.3" x2="453.3" y2="815.3" stroke="#1a1a1a" stroke-width="2.2"/>
<line x1="455.5" y1="815.3" x2="459.6" y2="815.3" stroke="#1a1a1a" stroke-width="2.2" stroke-dasharray="2.5 0.35"/>
<line x1="468.8" y1="815.3" x2="476.0" y2="815.3" stroke="#1a1a1a" stroke-width="2.2" stroke-dasharray="2.5 0.35"/>
<line x1="480.6" y1="815.3" x2="500.3" y2="815.3" stroke="#1a1a1a" stroke-width="2.2" stroke-dasharray="2.5 0.35"/>
<line x1="511.1" y1="815.3" x2="517.0" y2="815.3" stroke="#1a1a1a" stroke-width="2.2" stroke-dasharray="2.5 0.35"/>
<line x1="519.9" y1="815.3" x2="526.6" y2="815.3" stroke="#1a1a1a" stroke-width="2.2" stroke-dasharray="2.5 0.35"/>
<line x1="543.2" y1="815.3" x2="550.0" y2="815.3" stroke="#1a1a1a" stroke-width="2.2" stroke-dasharray="2.5 0.35"/>
<text x="644.0" y="816.5" font-size="8.3" text-anchor="start" font-weight="normal" font-style="italic" fill="#222" dominant-baseline="central">Rho can</text>
<line x1="430.0" y1="828.2" x2="439.2" y2="828.2" stroke="#1a1a1a" stroke-width="2.2" stroke-dasharray="2.5 0.35"/>
<line x1="441.4" y1="828.2" x2="443.1" y2="828.2" stroke="#1a1a1a" stroke-width="2.2"/>
<line x1="445.1" y1="828.2" x2="467.8" y2="828.2" stroke="#1a1a1a" stroke-width="2.2" stroke-dasharray="2.5 0.35"/>
<line x1="468.8" y1="828.2" x2="482.6" y2="828.2" stroke="#1a1a1a" stroke-width="2.2" stroke-dasharray="2.5 0.35"/>
<line x1="485.7" y1="828.2" x2="489.8" y2="828.2" stroke="#1a1a1a" stroke-width="2.2" stroke-dasharray="2.5 0.35"/>
<text x="644.0" y="829.25" font-size="8.3" text-anchor="start" font-weight="normal" font-style="italic" fill="#222" dominant-baseline="central">Vac oxy</text>
<line x1="430.3" y1="840.5" x2="437.3" y2="840.5" stroke="#1a1a1a" stroke-width="2.2" stroke-dasharray="2.5 0.35"/>
<line x1="442.5" y1="840.5" x2="474.6" y2="840.5" stroke="#1a1a1a" stroke-width="2.2" stroke-dasharray="2.5 0.35"/>
<line x1="476.1" y1="840.5" x2="488.6" y2="840.5" stroke="#1a1a1a" stroke-width="2.2" stroke-dasharray="2.5 0.35"/>
<text x="644.0" y="842.0" font-size="8.3" text-anchor="start" font-weight="normal" font-style="italic" fill="#222" dominant-baseline="central">SPH RUB</text>
<line x1="430.3" y1="853.4" x2="460.6" y2="853.4" stroke="#1a1a1a" stroke-width="2.2" stroke-dasharray="2.5 0.35"/>
<line x1="462.4" y1="853.4" x2="482.8" y2="853.4" stroke="#1a1a1a" stroke-width="2.2" stroke-dasharray="2.5 0.35"/>
<line x1="485.7" y1="853.4" x2="487.8" y2="853.4" stroke="#1a1a1a" stroke-width="2.2"/>
<text x="644.0" y="854.75" font-size="8.3" text-anchor="start" font-weight="normal" font-style="italic" fill="#222" dominant-baseline="central">Eri ang</text>
<text x="176.3" y="893.4" font-size="11.9" text-anchor="middle" font-weight="normal" font-style="normal" fill="#222" dominant-baseline="central" stroke="#222" stroke-width="0.25">Distance from beginning of</text>
<text x="178.2" y="908.3" font-size="11.9" text-anchor="middle" font-weight="normal" font-style="normal" fill="#222" dominant-baseline="central" stroke="#222" stroke-width="0.25">transect in bog (m)</text>
<text x="528.1" y="893.3" font-size="11.9" text-anchor="middle" font-weight="normal" font-style="normal" fill="#222" dominant-baseline="central" stroke="#222" stroke-width="0.25">Distance from beginning of</text>
<text x="529.3" y="909.0" font-size="11.9" text-anchor="middle" font-weight="normal" font-style="normal" fill="#222" dominant-baseline="central" stroke="#222" stroke-width="0.25">transect in bog (m)</text>
</svg>
</body></html>
